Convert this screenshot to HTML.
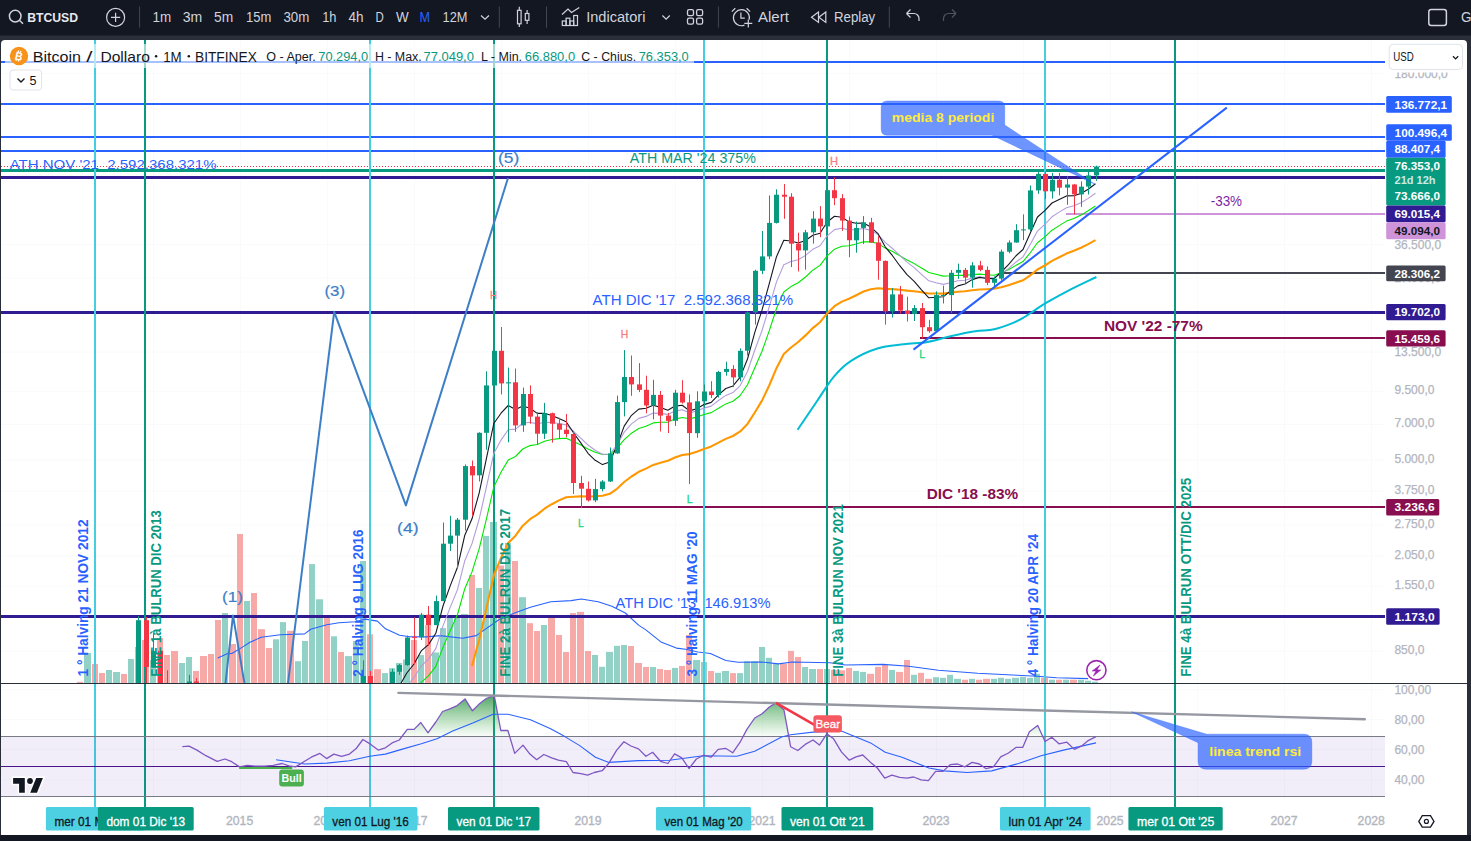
<!DOCTYPE html>
<html><head><meta charset="utf-8"><style>
html,body{margin:0;padding:0;background:#131722;width:1471px;height:841px;overflow:hidden;}
text{font-family:"Liberation Sans", sans-serif;}
</style></head><body>
<svg width="1471" height="841" viewBox="0 0 1471 841" style="position:absolute;left:0;top:0;font-family:'Liberation Sans', sans-serif">
<rect x="0" y="0" width="1471" height="841" fill="#2a2e39"/>
<rect x="0" y="0" width="1471" height="35.5" fill="#131722"/>
<rect x="0" y="835" width="1471" height="6" fill="#131722"/>
<path d="M1 44 Q1 40 5 40 L1463 40 Q1467 40 1467 44 L1467 835 L1 835 Z" fill="#ffffff"/>
<defs><clipPath id="pane"><rect x="1" y="40" width="1384" height="643"/></clipPath><clipPath id="rsi"><rect x="1" y="684" width="1384" height="116"/></clipPath><linearGradient id="gfill" x1="0" y1="0" x2="0" y2="1"><stop offset="0" stop-color="#2e9b4a" stop-opacity="0.75"/><stop offset="1" stop-color="#4caf50" stop-opacity="0"/></linearGradient></defs>
<line x1="153.5" y1="40" x2="153.5" y2="800" stroke="#f9fafb" stroke-width="1"/>
<line x1="240.5" y1="40" x2="240.5" y2="800" stroke="#f9fafb" stroke-width="1"/>
<line x1="327.5" y1="40" x2="327.5" y2="800" stroke="#f9fafb" stroke-width="1"/>
<line x1="414.5" y1="40" x2="414.5" y2="800" stroke="#f9fafb" stroke-width="1"/>
<line x1="501.5" y1="40" x2="501.5" y2="800" stroke="#f9fafb" stroke-width="1"/>
<line x1="588.5" y1="40" x2="588.5" y2="800" stroke="#f9fafb" stroke-width="1"/>
<line x1="675.5" y1="40" x2="675.5" y2="800" stroke="#f9fafb" stroke-width="1"/>
<line x1="762.5" y1="40" x2="762.5" y2="800" stroke="#f9fafb" stroke-width="1"/>
<line x1="849.5" y1="40" x2="849.5" y2="800" stroke="#f9fafb" stroke-width="1"/>
<line x1="936.5" y1="40" x2="936.5" y2="800" stroke="#f9fafb" stroke-width="1"/>
<line x1="1023.5" y1="40" x2="1023.5" y2="800" stroke="#f9fafb" stroke-width="1"/>
<line x1="1110.5" y1="40" x2="1110.5" y2="800" stroke="#f9fafb" stroke-width="1"/>
<line x1="1197.5" y1="40" x2="1197.5" y2="800" stroke="#f9fafb" stroke-width="1"/>
<line x1="1284.5" y1="40" x2="1284.5" y2="800" stroke="#f9fafb" stroke-width="1"/>
<line x1="1371.5" y1="40" x2="1371.5" y2="800" stroke="#f9fafb" stroke-width="1"/>
<line x1="1" y1="73.5" x2="1385" y2="73.5" stroke="#f9fafb" stroke-width="1"/>
<line x1="1" y1="244.5" x2="1385" y2="244.5" stroke="#f9fafb" stroke-width="1"/>
<line x1="1" y1="278" x2="1385" y2="278" stroke="#f9fafb" stroke-width="1"/>
<line x1="1" y1="352" x2="1385" y2="352" stroke="#f9fafb" stroke-width="1"/>
<line x1="1" y1="391.2" x2="1385" y2="391.2" stroke="#f9fafb" stroke-width="1"/>
<line x1="1" y1="424.5" x2="1385" y2="424.5" stroke="#f9fafb" stroke-width="1"/>
<line x1="1" y1="460" x2="1385" y2="460" stroke="#f9fafb" stroke-width="1"/>
<line x1="1" y1="491" x2="1385" y2="491" stroke="#f9fafb" stroke-width="1"/>
<line x1="1" y1="525" x2="1385" y2="525" stroke="#f9fafb" stroke-width="1"/>
<line x1="1" y1="556" x2="1385" y2="556" stroke="#f9fafb" stroke-width="1"/>
<line x1="1" y1="586" x2="1385" y2="586" stroke="#f9fafb" stroke-width="1"/>
<line x1="1" y1="651" x2="1385" y2="651" stroke="#f9fafb" stroke-width="1"/>
<line x1="1" y1="689.8" x2="1385" y2="689.8" stroke="#f9fafb" stroke-width="1"/>
<line x1="1" y1="719.6" x2="1385" y2="719.6" stroke="#f9fafb" stroke-width="1"/>
<line x1="1" y1="749.6" x2="1385" y2="749.6" stroke="#f9fafb" stroke-width="1"/>
<line x1="1" y1="780" x2="1385" y2="780" stroke="#f9fafb" stroke-width="1"/>
<g clip-path="url(#pane)">
<rect x="77" y="681.8" width="6" height="1.7" fill="#f7a9a7"/>
<rect x="84" y="653.0" width="7" height="30.5" fill="#92d1c6"/>
<rect x="92" y="664.0" width="6" height="19.5" fill="#f7a9a7"/>
<rect x="99" y="673.0" width="6" height="10.5" fill="#f7a9a7"/>
<rect x="106" y="670.0" width="6" height="13.5" fill="#92d1c6"/>
<rect x="113" y="672.0" width="7" height="11.5" fill="#92d1c6"/>
<rect x="121" y="674.0" width="6" height="9.5" fill="#f7a9a7"/>
<rect x="128" y="659.0" width="6" height="24.5" fill="#92d1c6"/>
<rect x="135" y="647.0" width="6" height="36.5" fill="#92d1c6"/>
<rect x="142" y="640.0" width="7" height="43.5" fill="#f7a9a7"/>
<rect x="150" y="660.0" width="6" height="23.5" fill="#92d1c6"/>
<rect x="157" y="638.0" width="6" height="45.5" fill="#f7a9a7"/>
<rect x="164" y="655.0" width="6" height="28.5" fill="#f7a9a7"/>
<rect x="171" y="651.0" width="7" height="32.5" fill="#f7a9a7"/>
<rect x="179" y="663.0" width="6" height="20.5" fill="#92d1c6"/>
<rect x="186" y="657.0" width="6" height="26.5" fill="#92d1c6"/>
<rect x="193" y="671.0" width="6" height="12.5" fill="#f7a9a7"/>
<rect x="200" y="656.0" width="7" height="27.5" fill="#f7a9a7"/>
<rect x="208" y="654.0" width="6" height="29.5" fill="#f7a9a7"/>
<rect x="215" y="620.0" width="6" height="63.5" fill="#f7a9a7"/>
<rect x="222" y="613.0" width="6" height="70.5" fill="#92d1c6"/>
<rect x="229" y="644.0" width="7" height="39.5" fill="#f7a9a7"/>
<rect x="237" y="534.0" width="6" height="149.5" fill="#f7a9a7"/>
<rect x="244" y="601.0" width="6" height="82.5" fill="#92d1c6"/>
<rect x="251" y="593.0" width="6" height="90.5" fill="#f7a9a7"/>
<rect x="258" y="629.2" width="7" height="54.3" fill="#f7a9a7"/>
<rect x="266" y="648.0" width="6" height="35.5" fill="#f7a9a7"/>
<rect x="273" y="639.3" width="6" height="44.2" fill="#92d1c6"/>
<rect x="280" y="622.1" width="6" height="61.4" fill="#92d1c6"/>
<rect x="287" y="630.8" width="7" height="52.7" fill="#f7a9a7"/>
<rect x="295" y="661.2" width="6" height="22.3" fill="#92d1c6"/>
<rect x="302" y="641.0" width="6" height="42.5" fill="#92d1c6"/>
<rect x="309" y="564.1" width="6" height="119.4" fill="#92d1c6"/>
<rect x="316" y="599.3" width="7" height="84.2" fill="#92d1c6"/>
<rect x="324" y="618.0" width="6" height="65.5" fill="#f7a9a7"/>
<rect x="331" y="636.3" width="6" height="47.2" fill="#92d1c6"/>
<rect x="338" y="652.0" width="6" height="31.5" fill="#f7a9a7"/>
<rect x="345" y="656.1" width="7" height="27.4" fill="#92d1c6"/>
<rect x="353" y="641.0" width="6" height="42.5" fill="#92d1c6"/>
<rect x="360" y="561.0" width="6" height="122.5" fill="#92d1c6"/>
<rect x="367" y="634.3" width="6" height="49.2" fill="#f7a9a7"/>
<rect x="374" y="669.2" width="7" height="14.3" fill="#f7a9a7"/>
<rect x="382" y="673.1" width="6" height="10.4" fill="#92d1c6"/>
<rect x="389" y="668.2" width="6" height="15.3" fill="#92d1c6"/>
<rect x="396" y="663.0" width="6" height="20.5" fill="#92d1c6"/>
<rect x="403" y="659.5" width="7" height="24.0" fill="#92d1c6"/>
<rect x="411" y="639.9" width="6" height="43.6" fill="#f7a9a7"/>
<rect x="418" y="655.1" width="6" height="28.4" fill="#92d1c6"/>
<rect x="425" y="625.2" width="6" height="58.3" fill="#f7a9a7"/>
<rect x="432" y="652.5" width="7" height="31.0" fill="#92d1c6"/>
<rect x="440" y="628.1" width="6" height="55.4" fill="#92d1c6"/>
<rect x="447" y="616.0" width="6" height="67.5" fill="#92d1c6"/>
<rect x="454" y="616.0" width="6" height="67.5" fill="#92d1c6"/>
<rect x="461" y="614.0" width="7" height="69.5" fill="#92d1c6"/>
<rect x="469" y="575.0" width="6" height="108.5" fill="#f7a9a7"/>
<rect x="476" y="588.0" width="6" height="95.5" fill="#92d1c6"/>
<rect x="483" y="536.0" width="6" height="147.5" fill="#92d1c6"/>
<rect x="490" y="522.0" width="7" height="161.5" fill="#92d1c6"/>
<rect x="498" y="565.5" width="6" height="118.0" fill="#f7a9a7"/>
<rect x="505" y="543.0" width="6" height="140.5" fill="#92d1c6"/>
<rect x="512" y="561.0" width="6" height="122.5" fill="#f7a9a7"/>
<rect x="519" y="597.2" width="7" height="86.3" fill="#92d1c6"/>
<rect x="527" y="623.2" width="6" height="60.3" fill="#f7a9a7"/>
<rect x="534" y="631.0" width="6" height="52.5" fill="#f7a9a7"/>
<rect x="541" y="625.0" width="6" height="58.5" fill="#92d1c6"/>
<rect x="548" y="617.5" width="7" height="66.0" fill="#f7a9a7"/>
<rect x="556" y="635.0" width="6" height="48.5" fill="#f7a9a7"/>
<rect x="563" y="652.0" width="6" height="31.5" fill="#f7a9a7"/>
<rect x="570" y="613.0" width="6" height="70.5" fill="#f7a9a7"/>
<rect x="577" y="611.9" width="7" height="71.6" fill="#f7a9a7"/>
<rect x="585" y="651.0" width="6" height="32.5" fill="#f7a9a7"/>
<rect x="592" y="655.0" width="6" height="28.5" fill="#92d1c6"/>
<rect x="599" y="666.8" width="6" height="16.7" fill="#92d1c6"/>
<rect x="606" y="651.9" width="7" height="31.6" fill="#92d1c6"/>
<rect x="614" y="645.8" width="6" height="37.7" fill="#92d1c6"/>
<rect x="621" y="645.0" width="6" height="38.5" fill="#92d1c6"/>
<rect x="628" y="646.0" width="6" height="37.5" fill="#f7a9a7"/>
<rect x="635" y="663.0" width="7" height="20.5" fill="#f7a9a7"/>
<rect x="643" y="667.0" width="6" height="16.5" fill="#f7a9a7"/>
<rect x="650" y="667.0" width="6" height="16.5" fill="#92d1c6"/>
<rect x="657" y="669.0" width="6" height="14.5" fill="#f7a9a7"/>
<rect x="664" y="670.0" width="7" height="13.5" fill="#f7a9a7"/>
<rect x="672" y="667.9" width="6" height="15.6" fill="#92d1c6"/>
<rect x="679" y="665.9" width="6" height="17.6" fill="#f7a9a7"/>
<rect x="686" y="635.0" width="6" height="48.5" fill="#f7a9a7"/>
<rect x="693" y="660.0" width="7" height="23.5" fill="#92d1c6"/>
<rect x="701" y="662.0" width="6" height="21.5" fill="#92d1c6"/>
<rect x="708" y="671.0" width="6" height="12.5" fill="#f7a9a7"/>
<rect x="715" y="672.8" width="6" height="10.7" fill="#92d1c6"/>
<rect x="722" y="671.0" width="7" height="12.5" fill="#92d1c6"/>
<rect x="730" y="673.1" width="6" height="10.4" fill="#f7a9a7"/>
<rect x="737" y="673.1" width="6" height="10.4" fill="#92d1c6"/>
<rect x="744" y="661.2" width="6" height="22.3" fill="#92d1c6"/>
<rect x="751" y="661.2" width="7" height="22.3" fill="#92d1c6"/>
<rect x="759" y="647.0" width="6" height="36.5" fill="#92d1c6"/>
<rect x="766" y="657.8" width="6" height="25.7" fill="#92d1c6"/>
<rect x="773" y="663.6" width="6" height="19.9" fill="#92d1c6"/>
<rect x="780" y="663.6" width="7" height="19.9" fill="#f7a9a7"/>
<rect x="788" y="650.9" width="6" height="32.6" fill="#f7a9a7"/>
<rect x="795" y="656.9" width="6" height="26.6" fill="#f7a9a7"/>
<rect x="802" y="667.0" width="6" height="16.5" fill="#92d1c6"/>
<rect x="809" y="669.0" width="7" height="14.5" fill="#92d1c6"/>
<rect x="817" y="669.0" width="6" height="14.5" fill="#f7a9a7"/>
<rect x="824" y="669.0" width="6" height="14.5" fill="#92d1c6"/>
<rect x="831" y="669.9" width="6" height="13.6" fill="#f7a9a7"/>
<rect x="838" y="670.3" width="7" height="13.2" fill="#f7a9a7"/>
<rect x="846" y="667.9" width="6" height="15.6" fill="#f7a9a7"/>
<rect x="853" y="670.9" width="6" height="12.6" fill="#92d1c6"/>
<rect x="860" y="671.9" width="6" height="11.6" fill="#92d1c6"/>
<rect x="867" y="673.8" width="7" height="9.7" fill="#f7a9a7"/>
<rect x="875" y="666.9" width="6" height="16.6" fill="#f7a9a7"/>
<rect x="882" y="665.0" width="6" height="18.5" fill="#f7a9a7"/>
<rect x="889" y="669.9" width="6" height="13.6" fill="#92d1c6"/>
<rect x="896" y="671.9" width="7" height="11.6" fill="#f7a9a7"/>
<rect x="904" y="660.0" width="6" height="23.5" fill="#f7a9a7"/>
<rect x="911" y="674.8" width="6" height="8.7" fill="#92d1c6"/>
<rect x="918" y="672.8" width="6" height="10.7" fill="#f7a9a7"/>
<rect x="925" y="678.8" width="7" height="4.7" fill="#f7a9a7"/>
<rect x="933" y="677.2" width="6" height="6.3" fill="#92d1c6"/>
<rect x="940" y="677.8" width="6" height="5.7" fill="#92d1c6"/>
<rect x="947" y="674.8" width="6" height="8.7" fill="#92d1c6"/>
<rect x="954" y="678.8" width="7" height="4.7" fill="#92d1c6"/>
<rect x="962" y="679.7" width="6" height="3.8" fill="#f7a9a7"/>
<rect x="969" y="678.8" width="6" height="4.7" fill="#92d1c6"/>
<rect x="976" y="679.7" width="6" height="3.8" fill="#f7a9a7"/>
<rect x="983" y="678.8" width="7" height="4.7" fill="#f7a9a7"/>
<rect x="991" y="678.8" width="6" height="4.7" fill="#92d1c6"/>
<rect x="998" y="677.8" width="6" height="5.7" fill="#92d1c6"/>
<rect x="1005" y="678.8" width="6" height="4.7" fill="#92d1c6"/>
<rect x="1012" y="677.8" width="7" height="5.7" fill="#92d1c6"/>
<rect x="1020" y="676.8" width="6" height="6.7" fill="#92d1c6"/>
<rect x="1027" y="677.8" width="6" height="5.7" fill="#92d1c6"/>
<rect x="1034" y="673.8" width="6" height="9.7" fill="#92d1c6"/>
<rect x="1041" y="677.8" width="7" height="5.7" fill="#f7a9a7"/>
<rect x="1049" y="679.7" width="6" height="3.8" fill="#92d1c6"/>
<rect x="1056" y="679.7" width="6" height="3.8" fill="#f7a9a7"/>
<rect x="1063" y="679.7" width="6" height="3.8" fill="#92d1c6"/>
<rect x="1070" y="679.7" width="7" height="3.8" fill="#f7a9a7"/>
<rect x="1078" y="679.7" width="6" height="3.8" fill="#92d1c6"/>
<rect x="1085" y="680.7" width="6" height="2.8" fill="#92d1c6"/>
<rect x="1092" y="681.7" width="6" height="1.8" fill="#92d1c6"/>
<polyline points="217.7,658.1 227.8,653.5 231.9,653.5 242.0,647.4 250.0,642.3 261.1,637.3 280.3,634.7 304.6,633.9 310.7,629.2 326.8,624.8 339.0,622.7 355.2,621.7 365.3,619.1 377.4,621.1 385.5,628.8 399.6,635.3 409.8,636.7 426.0,636.9 440.0,635.6 462.6,638.3 476.2,635.6 498.8,619.8 514.6,613.0 530.4,607.3 550.7,601.7 571.1,600.6 581.2,599.0 598.2,601.7 611.8,606.2 625.3,613.0 638.9,625.4 645.5,629.6 660.9,641.9 676.4,648.1 685.6,649.3 698.0,652.0 710.4,653.5 725.8,660.5 738.2,662.3 761.4,662.0 778.4,663.9 792.3,662.0 830.0,662.8 845.6,665.0 883.1,664.4 908.7,666.3 938.3,670.3 977.7,673.2 1017.2,675.2 1036.9,676.2 1056.6,677.8 1088.1,678.6" fill="none" stroke="#2962ff" stroke-width="1.1" stroke-linejoin="round" />
</g>
<line x1="1" y1="62" x2="1385" y2="62" stroke="#2962ff" stroke-width="2" />
<line x1="1" y1="104" x2="1385" y2="104" stroke="#2962ff" stroke-width="2" />
<line x1="1" y1="137" x2="1385" y2="137" stroke="#2962ff" stroke-width="2" />
<line x1="1" y1="151" x2="1385" y2="151" stroke="#2962ff" stroke-width="2" />
<line x1="1" y1="166.5" x2="1385" y2="166.5" stroke="#f23645" stroke-width="1" stroke-dasharray="1 2"/>
<line x1="1" y1="170.5" x2="1385" y2="170.5" stroke="#089981" stroke-width="3" />
<line x1="1" y1="177.5" x2="1385" y2="177.5" stroke="#311b92" stroke-width="3" />
<line x1="1066" y1="214" x2="1385" y2="214" stroke="#ce93d8" stroke-width="2" />
<line x1="1003" y1="273" x2="1385" y2="273" stroke="#434651" stroke-width="2" />
<line x1="1" y1="312.5" x2="1385" y2="312.5" stroke="#311b92" stroke-width="3" />
<line x1="920" y1="338" x2="1385" y2="338" stroke="#880e4f" stroke-width="2" />
<line x1="558" y1="507" x2="1385" y2="507" stroke="#880e4f" stroke-width="2" />
<line x1="1" y1="616.5" x2="1385" y2="616.5" stroke="#311b92" stroke-width="3" />
<line x1="95" y1="40" x2="95" y2="808" stroke="#45cee0" stroke-width="2"/>
<line x1="145" y1="40" x2="145" y2="808" stroke="#089981" stroke-width="2"/>
<line x1="370" y1="40" x2="370" y2="808" stroke="#45cee0" stroke-width="2"/>
<line x1="494" y1="40" x2="494" y2="808" stroke="#089981" stroke-width="2"/>
<line x1="704" y1="40" x2="704" y2="808" stroke="#45cee0" stroke-width="2"/>
<line x1="827" y1="40" x2="827" y2="808" stroke="#089981" stroke-width="2"/>
<line x1="1045" y1="40" x2="1045" y2="808" stroke="#45cee0" stroke-width="2"/>
<line x1="1175" y1="40" x2="1175" y2="808" stroke="#089981" stroke-width="2"/>
<g clip-path="url(#pane)">
<polyline points="472.0,665.9 479.2,639.7 486.5,607.9 493.8,575.4 501.0,557.8 508.2,543.1 515.5,535.7 522.8,525.7 530.0,519.2 537.2,514.6 544.5,508.7 551.8,504.2 559.0,500.4 566.2,497.2 573.5,496.7 580.8,496.4 588.0,496.5 595.2,496.2 602.5,495.7 609.8,493.8 617.0,488.8 624.2,482.0 631.5,476.5 638.8,471.8 646.0,468.6 653.2,464.9 660.5,462.7 667.8,460.8 675.0,457.5 682.2,455.0 689.5,454.1 696.8,451.7 704.0,448.9 711.2,446.4 718.5,442.6 725.8,438.9 733.0,436.0 740.2,431.4 747.5,423.9 754.8,412.5 762.0,400.6 769.2,385.5 776.5,368.2 783.8,354.1 791.0,347.5 798.2,342.0 805.5,335.4 812.8,328.1 820.0,322.2 827.2,313.3 834.5,306.2 841.8,301.6 849.0,298.7 856.2,295.2 863.5,291.5 870.8,289.3 878.0,288.2 885.2,288.9 892.5,289.1 899.8,289.8 907.0,290.6 914.2,291.2 921.5,292.3 928.8,293.5 936.0,293.5 943.2,293.6 950.5,292.7 957.8,291.8 965.0,291.3 972.2,290.3 979.5,289.5 986.8,289.2 994.0,288.8 1001.2,287.2 1008.5,285.3 1015.8,282.7 1023.0,280.3 1030.2,275.4 1037.5,269.5 1044.8,265.5 1052.0,260.9 1059.2,257.2 1066.5,253.6 1073.8,250.8 1081.0,247.7 1088.2,244.1 1095.5,240.1" fill="none" stroke="#ff9800" stroke-width="2.1" stroke-linejoin="round" />
<polyline points="225.5,728.9 232.8,731.2 240.0,735.8 247.2,739.2 254.5,742.7 261.8,746.1 269.0,749.6 276.2,751.8 283.5,753.2 290.8,756.2 298.0,758.8 305.2,758.7 312.5,756.7 319.8,753.3 327.0,752.1 334.2,749.1 341.5,747.0 348.8,744.2 356.0,739.6 363.2,732.0 370.5,726.6 377.8,723.1 385.0,719.3 392.2,714.0 399.5,708.5 406.8,699.7 414.0,692.3 421.2,682.4 428.5,675.8 435.8,666.4 443.0,647.4 450.2,630.8 457.5,614.5 464.8,588.7 472.0,571.9 479.2,548.7 486.5,518.6 493.8,487.0 501.0,472.2 508.2,460.1 515.5,456.5 522.8,449.0 530.0,445.6 537.2,444.5 544.5,441.2 551.8,439.5 559.0,438.6 566.2,438.2 573.5,441.5 580.8,445.1 588.0,449.1 595.2,452.2 602.5,454.5 609.8,454.4 617.0,448.5 624.2,439.6 631.5,433.2 638.8,428.5 646.0,426.2 653.2,422.9 660.5,422.2 667.8,422.1 675.0,419.1 682.2,417.5 689.5,418.8 696.8,417.1 704.0,414.5 711.2,412.6 718.5,408.2 725.8,403.9 733.0,401.2 740.2,395.5 747.5,384.7 754.8,367.7 762.0,351.3 769.2,330.9 776.5,308.5 783.8,292.0 791.0,286.6 798.2,282.7 805.5,277.0 812.8,270.2 820.0,265.4 827.2,255.9 834.5,249.2 841.8,246.3 849.0,245.7 856.2,244.0 863.5,241.8 870.8,241.9 878.0,243.5 885.2,248.1 892.5,251.6 899.8,255.8 907.0,260.0 914.2,263.6 921.5,268.0 928.8,272.5 936.0,274.3 943.2,276.1 950.5,275.8 957.8,275.2 965.0,275.4 972.2,274.5 979.5,274.1 986.8,274.8 994.0,275.2 1001.2,272.8 1008.5,269.7 1015.8,265.4 1023.0,261.6 1030.2,252.8 1037.5,242.7 1044.8,236.9 1052.0,230.2 1059.2,225.6 1066.5,221.1 1073.8,218.4 1081.0,215.1 1088.2,210.8 1095.5,206.0" fill="none" stroke="#00e600" stroke-width="1.1" stroke-linejoin="round" />
<polyline points="167.5,741.4 174.8,738.2 182.0,728.4 189.2,720.3 196.5,715.6 203.8,715.2 211.0,717.9 218.2,722.0 225.5,724.2 232.8,728.3 240.0,735.8 247.2,741.2 254.5,746.5 261.8,751.6 269.0,756.5 276.2,759.2 283.5,760.5 290.8,764.5 298.0,767.6 305.2,766.2 312.5,761.8 319.8,755.5 327.0,753.3 334.2,748.4 341.5,745.2 348.8,741.2 356.0,734.5 363.2,724.0 370.5,717.3 377.8,713.5 385.0,709.3 392.2,703.1 399.5,696.8 406.8,686.0 414.0,677.5 421.2,666.0 428.5,659.1 435.8,648.6 443.0,625.9 450.2,607.4 457.5,589.6 464.8,560.7 472.0,543.6 479.2,519.0 486.5,486.6 493.8,453.4 501.0,440.1 508.2,429.7 515.5,429.1 522.8,423.3 530.0,422.3 537.2,423.9 544.5,422.3 551.8,422.5 559.0,423.5 566.2,424.9 573.5,431.5 580.8,438.1 588.0,445.0 595.2,450.3 602.5,454.3 609.8,454.1 617.0,445.0 624.2,432.2 631.5,423.9 638.8,418.4 646.0,416.4 653.2,413.1 660.5,413.4 667.8,414.4 675.0,411.1 682.2,409.8 689.5,412.8 696.8,411.1 704.0,408.1 711.2,406.1 718.5,400.5 725.8,395.4 733.0,392.6 740.2,385.6 747.5,371.5 754.8,350.0 762.0,330.6 769.2,306.9 776.5,281.9 783.8,264.7 791.0,261.5 798.2,259.8 805.5,255.4 812.8,249.3 820.0,245.7 827.2,235.8 834.5,229.6 841.8,228.2 849.0,229.9 856.2,229.6 863.5,228.5 870.8,230.4 878.0,234.3 885.2,242.4 892.5,248.5 899.8,255.4 907.0,262.1 914.2,267.6 921.5,274.3 928.8,280.8 936.0,282.8 943.2,284.4 950.5,282.7 957.8,280.8 965.0,280.3 972.2,278.1 979.5,276.9 986.8,277.7 994.0,277.8 1001.2,273.7 1008.5,268.6 1015.8,262.2 1023.0,256.9 1030.2,244.5 1037.5,231.1 1044.8,224.4 1052.0,216.8 1059.2,212.1 1066.5,207.7 1073.8,205.7 1081.0,202.8 1088.2,198.4 1095.5,193.2" fill="none" stroke="#b39ddb" stroke-width="1.1" stroke-linejoin="round" />
<polyline points="131.2,853.5 138.5,745.9 145.8,722.7 153.0,702.1 160.2,700.3 167.5,704.2 174.8,707.6 182.0,701.7 189.2,696.9 196.5,695.6 203.8,699.2 211.0,706.3 218.2,714.7 225.5,719.5 232.8,726.7 240.0,738.9 247.2,746.9 254.5,754.3 261.8,761.1 269.0,767.2 276.2,769.3 283.5,769.2 290.8,773.8 298.0,777.0 305.2,772.5 312.5,763.9 319.8,753.7 327.0,750.8 334.2,743.8 341.5,740.1 348.8,735.2 356.0,726.8 363.2,713.3 370.5,706.1 377.8,703.1 385.0,699.3 392.2,692.5 399.5,685.8 406.8,673.0 414.0,664.0 421.2,650.9 428.5,644.6 435.8,633.3 443.0,606.0 450.2,585.9 457.5,567.3 464.8,535.2 472.0,518.8 479.2,492.9 486.5,458.2 493.8,423.5 501.0,413.2 508.2,405.5 515.5,409.6 522.8,405.9 530.0,408.2 537.2,413.4 544.5,413.3 551.8,415.5 559.0,418.5 566.2,421.8 573.5,432.7 580.8,442.9 588.0,453.3 595.2,460.3 602.5,464.6 609.8,462.0 617.0,445.5 624.2,426.1 631.5,415.3 638.8,409.1 646.0,408.3 653.2,405.2 660.5,407.4 667.8,410.2 675.0,406.1 682.2,405.3 689.5,410.9 696.8,408.7 704.0,404.6 711.2,402.4 718.5,394.9 725.8,388.5 733.0,385.9 740.2,377.1 747.5,359.0 754.8,332.3 762.0,310.2 769.2,283.8 776.5,256.7 783.8,240.2 791.0,241.0 798.2,243.0 805.5,240.5 812.8,235.2 820.0,233.2 827.2,222.0 834.5,216.3 841.8,217.2 849.0,221.9 856.2,223.2 863.5,223.0 870.8,227.1 878.0,233.7 885.2,246.8 892.5,255.7 899.8,265.7 907.0,274.7 914.2,281.3 921.5,289.9 928.8,297.8 936.0,297.2 943.2,296.7 950.5,290.9 957.8,285.9 965.0,284.0 972.2,279.6 979.5,277.4 986.8,278.5 994.0,278.6 1001.2,272.0 1008.5,264.7 1015.8,256.0 1023.0,249.5 1030.2,233.3 1037.5,217.0 1044.8,210.7 1052.0,203.0 1059.2,199.4 1066.5,195.9 1073.8,195.6 1081.0,193.5 1088.2,189.2 1095.5,183.8" fill="none" stroke="#131722" stroke-width="1.1" stroke-linejoin="round" />
<path d="M797.6,429.8 C800.9,425.0 811.0,409.9 817.1,401.0 C823.2,392.1 828.4,383.0 834.1,376.3 C839.8,369.6 843.9,365.4 851.1,360.8 C858.3,356.2 868.6,351.2 877.4,348.5 C886.2,345.8 895.4,345.4 903.8,344.3 C912.2,343.2 919.7,343.3 927.6,341.9 C935.5,340.5 943.5,337.8 951.4,336.0 C959.3,334.2 968.1,332.3 975.2,331.2 C982.3,330.1 987.9,330.7 994.2,329.3 C1000.5,327.9 1008.5,324.8 1013.2,322.9 C1018.0,321.0 1019.1,320.2 1022.7,318.1 C1026.3,316.0 1030.6,312.9 1034.6,310.3 C1038.6,307.7 1040.5,306.1 1046.5,302.7 C1052.5,299.2 1062.0,293.9 1070.3,289.6 C1078.6,285.3 1092.1,279.1 1096.4,277.0" fill="none" stroke="#00bcd4" stroke-width="2" stroke-linejoin="round" />
<line x1="80.5" y1="882.4" x2="80.5" y2="967.3" stroke="#f23645" stroke-width="1"/>
<rect x="78" y="886.9" width="5" height="2.3" fill="#f23645"/>
<line x1="88.5" y1="776.0" x2="88.5" y2="956.0" stroke="#089981" stroke-width="1"/>
<rect x="86" y="845.9" width="5" height="43.3" fill="#089981"/>
<line x1="95.5" y1="845.1" x2="95.5" y2="881.4" stroke="#f23645" stroke-width="1"/>
<rect x="93" y="845.9" width="5" height="8.0" fill="#f23645"/>
<line x1="102.5" y1="853.9" x2="102.5" y2="895.1" stroke="#f23645" stroke-width="1"/>
<rect x="100" y="853.9" width="5" height="30.7" fill="#f23645"/>
<line x1="109.5" y1="869.2" x2="109.5" y2="927.8" stroke="#089981" stroke-width="1"/>
<rect x="107" y="875.1" width="5" height="9.6" fill="#089981"/>
<line x1="117.5" y1="845.1" x2="117.5" y2="881.4" stroke="#089981" stroke-width="1"/>
<rect x="115" y="849.0" width="5" height="26.0" fill="#089981"/>
<line x1="124.5" y1="841.3" x2="124.5" y2="864.5" stroke="#f23645" stroke-width="1"/>
<rect x="122" y="849.0" width="5" height="1.6" fill="#f23645"/>
<line x1="131.5" y1="798.9" x2="131.5" y2="871.1" stroke="#089981" stroke-width="1"/>
<rect x="129" y="804.6" width="5" height="46.1" fill="#089981"/>
<line x1="138.5" y1="615.9" x2="138.5" y2="808.9" stroke="#089981" stroke-width="1"/>
<rect x="136" y="620.2" width="5" height="184.3" fill="#089981"/>
<line x1="146.5" y1="617.0" x2="146.5" y2="719.4" stroke="#f23645" stroke-width="1"/>
<rect x="144" y="620.2" width="5" height="46.8" fill="#f23645"/>
<line x1="153.5" y1="633.4" x2="153.5" y2="667.3" stroke="#089981" stroke-width="1"/>
<rect x="151" y="650.9" width="5" height="16.1" fill="#089981"/>
<line x1="160.5" y1="649.6" x2="160.5" y2="726.8" stroke="#f23645" stroke-width="1"/>
<rect x="158" y="650.9" width="5" height="43.0" fill="#f23645"/>
<line x1="167.5" y1="670.3" x2="167.5" y2="720.6" stroke="#f23645" stroke-width="1"/>
<rect x="165" y="693.9" width="5" height="25.5" fill="#f23645"/>
<line x1="175.5" y1="698.8" x2="175.5" y2="749.6" stroke="#f23645" stroke-width="1"/>
<rect x="173" y="719.4" width="5" height="1.2" fill="#f23645"/>
<line x1="182.5" y1="684.0" x2="182.5" y2="726.8" stroke="#089981" stroke-width="1"/>
<rect x="180" y="683.2" width="5" height="37.4" fill="#089981"/>
<line x1="189.5" y1="674.9" x2="189.5" y2="697.8" stroke="#089981" stroke-width="1"/>
<rect x="187" y="681.5" width="5" height="1.7" fill="#089981"/>
<line x1="196.5" y1="678.1" x2="196.5" y2="693.9" stroke="#f23645" stroke-width="1"/>
<rect x="194" y="681.5" width="5" height="9.7" fill="#f23645"/>
<line x1="204.5" y1="688.4" x2="204.5" y2="721.8" stroke="#f23645" stroke-width="1"/>
<rect x="202" y="691.1" width="5" height="21.8" fill="#f23645"/>
<line x1="211.5" y1="708.0" x2="211.5" y2="741.9" stroke="#f23645" stroke-width="1"/>
<rect x="209" y="712.9" width="5" height="23.0" fill="#f23645"/>
<line x1="218.5" y1="725.5" x2="218.5" y2="772.4" stroke="#f23645" stroke-width="1"/>
<rect x="216" y="735.9" width="5" height="14.3" fill="#f23645"/>
<line x1="225.5" y1="717.0" x2="225.5" y2="759.5" stroke="#089981" stroke-width="1"/>
<rect x="223" y="738.2" width="5" height="12.0" fill="#089981"/>
<line x1="233.5" y1="736.2" x2="233.5" y2="763.1" stroke="#f23645" stroke-width="1"/>
<rect x="231" y="738.2" width="5" height="18.6" fill="#f23645"/>
<line x1="240.5" y1="756.1" x2="240.5" y2="836.3" stroke="#f23645" stroke-width="1"/>
<rect x="238" y="756.8" width="5" height="40.7" fill="#f23645"/>
<line x1="247.5" y1="776.4" x2="247.5" y2="801.5" stroke="#089981" stroke-width="1"/>
<rect x="245" y="781.0" width="5" height="16.5" fill="#089981"/>
<line x1="254.5" y1="763.1" x2="254.5" y2="789.4" stroke="#f23645" stroke-width="1"/>
<rect x="252" y="781.0" width="5" height="4.3" fill="#f23645"/>
<line x1="262.5" y1="777.6" x2="262.5" y2="800.4" stroke="#f23645" stroke-width="1"/>
<rect x="260" y="785.3" width="5" height="3.6" fill="#f23645"/>
<line x1="269.5" y1="783.6" x2="269.5" y2="793.1" stroke="#f23645" stroke-width="1"/>
<rect x="267" y="788.9" width="5" height="2.8" fill="#f23645"/>
<line x1="276.5" y1="775.6" x2="276.5" y2="797.4" stroke="#089981" stroke-width="1"/>
<rect x="274" y="776.8" width="5" height="14.8" fill="#089981"/>
<line x1="283.5" y1="757.1" x2="283.5" y2="781.0" stroke="#089981" stroke-width="1"/>
<rect x="281" y="769.0" width="5" height="7.9" fill="#089981"/>
<line x1="291.5" y1="767.8" x2="291.5" y2="829.4" stroke="#f23645" stroke-width="1"/>
<rect x="289" y="769.0" width="5" height="22.7" fill="#f23645"/>
<line x1="298.5" y1="784.0" x2="298.5" y2="794.0" stroke="#089981" stroke-width="1"/>
<rect x="296" y="788.9" width="5" height="2.8" fill="#089981"/>
<line x1="305.5" y1="752.1" x2="305.5" y2="789.4" stroke="#089981" stroke-width="1"/>
<rect x="303" y="758.1" width="5" height="30.8" fill="#089981"/>
<line x1="312.5" y1="707.6" x2="312.5" y2="763.8" stroke="#089981" stroke-width="1"/>
<rect x="310" y="738.5" width="5" height="19.7" fill="#089981"/>
<line x1="320.5" y1="714.9" x2="320.5" y2="746.5" stroke="#089981" stroke-width="1"/>
<rect x="318" y="724.0" width="5" height="14.4" fill="#089981"/>
<line x1="327.5" y1="716.8" x2="327.5" y2="745.8" stroke="#f23645" stroke-width="1"/>
<rect x="325" y="724.0" width="5" height="17.0" fill="#f23645"/>
<line x1="334.5" y1="719.9" x2="334.5" y2="741.3" stroke="#089981" stroke-width="1"/>
<rect x="332" y="722.5" width="5" height="18.5" fill="#089981"/>
<line x1="341.5" y1="722.1" x2="341.5" y2="731.5" stroke="#f23645" stroke-width="1"/>
<rect x="339" y="722.5" width="5" height="5.3" fill="#f23645"/>
<line x1="349.5" y1="715.2" x2="349.5" y2="728.6" stroke="#089981" stroke-width="1"/>
<rect x="347" y="719.9" width="5" height="8.0" fill="#089981"/>
<line x1="356.5" y1="697.8" x2="356.5" y2="722.8" stroke="#089981" stroke-width="1"/>
<rect x="354" y="701.6" width="5" height="18.3" fill="#089981"/>
<line x1="363.5" y1="660.4" x2="363.5" y2="702.4" stroke="#089981" stroke-width="1"/>
<rect x="361" y="676.0" width="5" height="25.5" fill="#089981"/>
<line x1="370.5" y1="671.0" x2="370.5" y2="712.4" stroke="#f23645" stroke-width="1"/>
<rect x="368" y="676.0" width="5" height="8.1" fill="#f23645"/>
<line x1="378.5" y1="683.5" x2="378.5" y2="714.7" stroke="#f23645" stroke-width="1"/>
<rect x="376" y="684.2" width="5" height="9.2" fill="#f23645"/>
<line x1="385.5" y1="684.9" x2="385.5" y2="693.9" stroke="#089981" stroke-width="1"/>
<rect x="383" y="686.8" width="5" height="6.6" fill="#089981"/>
<line x1="392.5" y1="668.8" x2="392.5" y2="687.9" stroke="#089981" stroke-width="1"/>
<rect x="390" y="671.8" width="5" height="15.0" fill="#089981"/>
<line x1="399.5" y1="664.1" x2="399.5" y2="674.9" stroke="#089981" stroke-width="1"/>
<rect x="397" y="665.1" width="5" height="6.7" fill="#089981"/>
<line x1="407.5" y1="635.6" x2="407.5" y2="665.8" stroke="#089981" stroke-width="1"/>
<rect x="405" y="637.5" width="5" height="27.6" fill="#089981"/>
<line x1="414.5" y1="617.4" x2="414.5" y2="664.4" stroke="#f23645" stroke-width="1"/>
<rect x="412" y="636.9" width="5" height="1.0" fill="#f23645"/>
<line x1="421.5" y1="612.9" x2="421.5" y2="640.1" stroke="#089981" stroke-width="1"/>
<rect x="419" y="614.7" width="5" height="22.6" fill="#089981"/>
<line x1="428.5" y1="606.0" x2="428.5" y2="645.9" stroke="#f23645" stroke-width="1"/>
<rect x="426" y="614.7" width="5" height="10.4" fill="#f23645"/>
<line x1="436.5" y1="595.6" x2="436.5" y2="625.1" stroke="#089981" stroke-width="1"/>
<rect x="434" y="601.1" width="5" height="24.0" fill="#089981"/>
<line x1="443.5" y1="522.5" x2="443.5" y2="601.1" stroke="#089981" stroke-width="1"/>
<rect x="441" y="543.7" width="5" height="57.4" fill="#089981"/>
<line x1="450.5" y1="515.8" x2="450.5" y2="551.0" stroke="#089981" stroke-width="1"/>
<rect x="448" y="535.6" width="5" height="8.1" fill="#089981"/>
<line x1="457.5" y1="518.0" x2="457.5" y2="568.3" stroke="#089981" stroke-width="1"/>
<rect x="455" y="519.7" width="5" height="15.9" fill="#089981"/>
<line x1="465.5" y1="464.5" x2="465.5" y2="530.5" stroke="#089981" stroke-width="1"/>
<rect x="463" y="466.1" width="5" height="53.6" fill="#089981"/>
<line x1="472.5" y1="460.5" x2="472.5" y2="516.2" stroke="#f23645" stroke-width="1"/>
<rect x="470" y="466.1" width="5" height="9.3" fill="#f23645"/>
<line x1="479.5" y1="432.3" x2="479.5" y2="481.5" stroke="#089981" stroke-width="1"/>
<rect x="477" y="432.8" width="5" height="42.5" fill="#089981"/>
<line x1="486.5" y1="371.3" x2="486.5" y2="449.8" stroke="#089981" stroke-width="1"/>
<rect x="484" y="385.4" width="5" height="47.4" fill="#089981"/>
<line x1="494.5" y1="311.4" x2="494.5" y2="377.2" stroke="#089981" stroke-width="1"/>
<rect x="492" y="350.8" width="5" height="34.7" fill="#089981"/>
<line x1="501.5" y1="327.0" x2="501.5" y2="394.4" stroke="#f23645" stroke-width="1"/>
<rect x="499" y="350.8" width="5" height="32.6" fill="#f23645"/>
<line x1="508.5" y1="367.6" x2="508.5" y2="442.3" stroke="#089981" stroke-width="1"/>
<rect x="506" y="382.3" width="5" height="1.1" fill="#089981"/>
<line x1="515.5" y1="368.5" x2="515.5" y2="431.8" stroke="#f23645" stroke-width="1"/>
<rect x="513" y="382.3" width="5" height="43.1" fill="#f23645"/>
<line x1="523.5" y1="387.6" x2="523.5" y2="431.8" stroke="#089981" stroke-width="1"/>
<rect x="521" y="394.0" width="5" height="31.4" fill="#089981"/>
<line x1="530.5" y1="385.4" x2="530.5" y2="423.8" stroke="#f23645" stroke-width="1"/>
<rect x="528" y="394.0" width="5" height="22.6" fill="#f23645"/>
<line x1="537.5" y1="412.2" x2="537.5" y2="445.0" stroke="#f23645" stroke-width="1"/>
<rect x="535" y="416.6" width="5" height="17.1" fill="#f23645"/>
<line x1="544.5" y1="402.9" x2="544.5" y2="439.0" stroke="#089981" stroke-width="1"/>
<rect x="542" y="413.2" width="5" height="20.5" fill="#089981"/>
<line x1="552.5" y1="412.6" x2="552.5" y2="442.6" stroke="#f23645" stroke-width="1"/>
<rect x="550" y="413.2" width="5" height="10.5" fill="#f23645"/>
<line x1="559.5" y1="417.7" x2="559.5" y2="438.7" stroke="#f23645" stroke-width="1"/>
<rect x="557" y="423.7" width="5" height="6.0" fill="#f23645"/>
<line x1="566.5" y1="413.9" x2="566.5" y2="437.3" stroke="#f23645" stroke-width="1"/>
<rect x="564" y="429.7" width="5" height="4.3" fill="#f23645"/>
<line x1="573.5" y1="431.0" x2="573.5" y2="494.0" stroke="#f23645" stroke-width="1"/>
<rect x="571" y="434.0" width="5" height="49.0" fill="#f23645"/>
<line x1="581.5" y1="475.8" x2="581.5" y2="508.1" stroke="#f23645" stroke-width="1"/>
<rect x="579" y="483.0" width="5" height="5.7" fill="#f23645"/>
<line x1="588.5" y1="481.5" x2="588.5" y2="501.6" stroke="#f23645" stroke-width="1"/>
<rect x="586" y="488.8" width="5" height="11.6" fill="#f23645"/>
<line x1="595.5" y1="478.9" x2="595.5" y2="502.2" stroke="#089981" stroke-width="1"/>
<rect x="593" y="489.1" width="5" height="11.3" fill="#089981"/>
<line x1="602.5" y1="480.1" x2="602.5" y2="491.4" stroke="#089981" stroke-width="1"/>
<rect x="600" y="481.5" width="5" height="7.6" fill="#089981"/>
<line x1="610.5" y1="447.5" x2="610.5" y2="482.0" stroke="#089981" stroke-width="1"/>
<rect x="608" y="453.4" width="5" height="28.1" fill="#089981"/>
<line x1="617.5" y1="395.6" x2="617.5" y2="453.8" stroke="#089981" stroke-width="1"/>
<rect x="615" y="402.1" width="5" height="51.3" fill="#089981"/>
<line x1="624.5" y1="350.1" x2="624.5" y2="416.4" stroke="#089981" stroke-width="1"/>
<rect x="622" y="377.0" width="5" height="25.1" fill="#089981"/>
<line x1="631.5" y1="355.5" x2="631.5" y2="395.8" stroke="#f23645" stroke-width="1"/>
<rect x="629" y="377.0" width="5" height="7.4" fill="#f23645"/>
<line x1="639.5" y1="363.1" x2="639.5" y2="392.1" stroke="#f23645" stroke-width="1"/>
<rect x="637" y="384.4" width="5" height="5.5" fill="#f23645"/>
<line x1="646.5" y1="375.7" x2="646.5" y2="413.3" stroke="#f23645" stroke-width="1"/>
<rect x="644" y="389.8" width="5" height="15.7" fill="#f23645"/>
<line x1="653.5" y1="379.8" x2="653.5" y2="419.3" stroke="#089981" stroke-width="1"/>
<rect x="651" y="394.9" width="5" height="10.6" fill="#089981"/>
<line x1="660.5" y1="391.0" x2="660.5" y2="431.5" stroke="#f23645" stroke-width="1"/>
<rect x="658" y="394.9" width="5" height="20.7" fill="#f23645"/>
<line x1="668.5" y1="412.9" x2="668.5" y2="433.0" stroke="#f23645" stroke-width="1"/>
<rect x="666" y="415.6" width="5" height="5.3" fill="#f23645"/>
<line x1="675.5" y1="389.8" x2="675.5" y2="425.9" stroke="#089981" stroke-width="1"/>
<rect x="673" y="392.7" width="5" height="28.1" fill="#089981"/>
<line x1="682.5" y1="380.2" x2="682.5" y2="403.6" stroke="#f23645" stroke-width="1"/>
<rect x="680" y="392.7" width="5" height="9.8" fill="#f23645"/>
<line x1="689.5" y1="394.4" x2="689.5" y2="484.1" stroke="#f23645" stroke-width="1"/>
<rect x="687" y="402.4" width="5" height="30.7" fill="#f23645"/>
<line x1="697.5" y1="391.3" x2="697.5" y2="437.8" stroke="#089981" stroke-width="1"/>
<rect x="695" y="401.3" width="5" height="31.9" fill="#089981"/>
<line x1="704.5" y1="384.6" x2="704.5" y2="407.7" stroke="#089981" stroke-width="1"/>
<rect x="702" y="391.5" width="5" height="9.8" fill="#089981"/>
<line x1="711.5" y1="381.2" x2="711.5" y2="398.0" stroke="#f23645" stroke-width="1"/>
<rect x="709" y="391.5" width="5" height="3.6" fill="#f23645"/>
<line x1="718.5" y1="370.9" x2="718.5" y2="397.6" stroke="#089981" stroke-width="1"/>
<rect x="716" y="371.9" width="5" height="23.2" fill="#089981"/>
<line x1="726.5" y1="361.7" x2="726.5" y2="375.7" stroke="#089981" stroke-width="1"/>
<rect x="724" y="368.9" width="5" height="3.0" fill="#089981"/>
<line x1="733.5" y1="365.1" x2="733.5" y2="387.2" stroke="#f23645" stroke-width="1"/>
<rect x="731" y="368.9" width="5" height="8.5" fill="#f23645"/>
<line x1="740.5" y1="348.4" x2="740.5" y2="381.4" stroke="#089981" stroke-width="1"/>
<rect x="738" y="350.8" width="5" height="26.6" fill="#089981"/>
<line x1="747.5" y1="311.3" x2="747.5" y2="355.5" stroke="#089981" stroke-width="1"/>
<rect x="745" y="312.4" width="5" height="38.3" fill="#089981"/>
<line x1="755.5" y1="269.7" x2="755.5" y2="324.6" stroke="#089981" stroke-width="1"/>
<rect x="753" y="270.8" width="5" height="41.6" fill="#089981"/>
<line x1="762.5" y1="231.0" x2="762.5" y2="274.1" stroke="#089981" stroke-width="1"/>
<rect x="760" y="256.4" width="5" height="14.4" fill="#089981"/>
<line x1="769.5" y1="195.5" x2="769.5" y2="259.2" stroke="#089981" stroke-width="1"/>
<rect x="767" y="222.9" width="5" height="33.5" fill="#089981"/>
<line x1="776.5" y1="189.3" x2="776.5" y2="223.5" stroke="#089981" stroke-width="1"/>
<rect x="774" y="194.7" width="5" height="28.2" fill="#089981"/>
<line x1="784.5" y1="184.0" x2="784.5" y2="218.8" stroke="#f23645" stroke-width="1"/>
<rect x="782" y="194.7" width="5" height="2.0" fill="#f23645"/>
<line x1="791.5" y1="193.2" x2="791.5" y2="267.1" stroke="#f23645" stroke-width="1"/>
<rect x="789" y="196.7" width="5" height="47.0" fill="#f23645"/>
<line x1="798.5" y1="232.7" x2="798.5" y2="271.5" stroke="#f23645" stroke-width="1"/>
<rect x="796" y="243.7" width="5" height="6.7" fill="#f23645"/>
<line x1="805.5" y1="229.9" x2="805.5" y2="269.7" stroke="#089981" stroke-width="1"/>
<rect x="803" y="232.3" width="5" height="18.1" fill="#089981"/>
<line x1="813.5" y1="211.1" x2="813.5" y2="243.6" stroke="#089981" stroke-width="1"/>
<rect x="811" y="218.6" width="5" height="13.7" fill="#089981"/>
<line x1="820.5" y1="206.1" x2="820.5" y2="237.2" stroke="#f23645" stroke-width="1"/>
<rect x="818" y="218.6" width="5" height="7.8" fill="#f23645"/>
<line x1="827.5" y1="180.6" x2="827.5" y2="227.6" stroke="#089981" stroke-width="1"/>
<rect x="825" y="190.2" width="5" height="36.2" fill="#089981"/>
<line x1="834.5" y1="177.4" x2="834.5" y2="205.2" stroke="#f23645" stroke-width="1"/>
<rect x="832" y="190.2" width="5" height="8.0" fill="#f23645"/>
<line x1="842.5" y1="194.1" x2="842.5" y2="230.9" stroke="#f23645" stroke-width="1"/>
<rect x="840" y="198.2" width="5" height="22.4" fill="#f23645"/>
<line x1="849.5" y1="216.5" x2="849.5" y2="257.2" stroke="#f23645" stroke-width="1"/>
<rect x="847" y="220.6" width="5" height="19.6" fill="#f23645"/>
<line x1="856.5" y1="221.6" x2="856.5" y2="252.7" stroke="#089981" stroke-width="1"/>
<rect x="854" y="227.9" width="5" height="12.4" fill="#089981"/>
<line x1="863.5" y1="216.1" x2="863.5" y2="244.0" stroke="#089981" stroke-width="1"/>
<rect x="861" y="222.3" width="5" height="5.6" fill="#089981"/>
<line x1="871.5" y1="217.9" x2="871.5" y2="242.8" stroke="#f23645" stroke-width="1"/>
<rect x="869" y="222.3" width="5" height="20.3" fill="#f23645"/>
<line x1="878.5" y1="236.2" x2="878.5" y2="279.7" stroke="#f23645" stroke-width="1"/>
<rect x="876" y="242.5" width="5" height="18.3" fill="#f23645"/>
<line x1="885.5" y1="260.5" x2="885.5" y2="324.6" stroke="#f23645" stroke-width="1"/>
<rect x="883" y="260.9" width="5" height="50.5" fill="#f23645"/>
<line x1="892.5" y1="288.1" x2="892.5" y2="317.5" stroke="#089981" stroke-width="1"/>
<rect x="890" y="294.4" width="5" height="17.0" fill="#089981"/>
<line x1="900.5" y1="285.9" x2="900.5" y2="313.5" stroke="#f23645" stroke-width="1"/>
<rect x="898" y="294.4" width="5" height="16.2" fill="#f23645"/>
<line x1="907.5" y1="296.7" x2="907.5" y2="321.5" stroke="#f23645" stroke-width="1"/>
<rect x="905" y="310.5" width="5" height="3.5" fill="#f23645"/>
<line x1="914.5" y1="305.0" x2="914.5" y2="321.0" stroke="#089981" stroke-width="1"/>
<rect x="912" y="308.1" width="5" height="5.9" fill="#089981"/>
<line x1="922.5" y1="303.0" x2="922.5" y2="338.5" stroke="#f23645" stroke-width="1"/>
<rect x="920" y="308.1" width="5" height="19.1" fill="#f23645"/>
<line x1="929.5" y1="319.8" x2="929.5" y2="332.8" stroke="#f23645" stroke-width="1"/>
<rect x="927" y="327.2" width="5" height="4.0" fill="#f23645"/>
<line x1="936.5" y1="291.4" x2="936.5" y2="331.5" stroke="#089981" stroke-width="1"/>
<rect x="934" y="295.1" width="5" height="36.0" fill="#089981"/>
<line x1="943.5" y1="285.7" x2="943.5" y2="303.5" stroke="#089981" stroke-width="1"/>
<rect x="941" y="295.0" width="5" height="1.0" fill="#089981"/>
<line x1="951.5" y1="270.0" x2="951.5" y2="313.0" stroke="#089981" stroke-width="1"/>
<rect x="949" y="272.8" width="5" height="22.3" fill="#089981"/>
<line x1="958.5" y1="263.6" x2="958.5" y2="278.9" stroke="#089981" stroke-width="1"/>
<rect x="956" y="269.9" width="5" height="2.9" fill="#089981"/>
<line x1="965.5" y1="267.9" x2="965.5" y2="283.4" stroke="#f23645" stroke-width="1"/>
<rect x="963" y="269.9" width="5" height="7.7" fill="#f23645"/>
<line x1="972.5" y1="262.2" x2="972.5" y2="287.6" stroke="#089981" stroke-width="1"/>
<rect x="970" y="265.4" width="5" height="12.2" fill="#089981"/>
<line x1="980.5" y1="260.9" x2="980.5" y2="271.2" stroke="#f23645" stroke-width="1"/>
<rect x="978" y="265.4" width="5" height="4.5" fill="#f23645"/>
<line x1="987.5" y1="266.4" x2="987.5" y2="285.1" stroke="#f23645" stroke-width="1"/>
<rect x="985" y="269.9" width="5" height="12.9" fill="#f23645"/>
<line x1="994.5" y1="276.5" x2="994.5" y2="287.2" stroke="#089981" stroke-width="1"/>
<rect x="992" y="278.6" width="5" height="4.2" fill="#089981"/>
<line x1="1001.5" y1="249.6" x2="1001.5" y2="280.3" stroke="#089981" stroke-width="1"/>
<rect x="999" y="251.6" width="5" height="27.0" fill="#089981"/>
<line x1="1009.5" y1="240.4" x2="1009.5" y2="253.3" stroke="#089981" stroke-width="1"/>
<rect x="1007" y="242.5" width="5" height="9.2" fill="#089981"/>
<line x1="1016.5" y1="224.2" x2="1016.5" y2="242.8" stroke="#089981" stroke-width="1"/>
<rect x="1014" y="230.2" width="5" height="12.3" fill="#089981"/>
<line x1="1023.5" y1="214.4" x2="1023.5" y2="240.1" stroke="#089981" stroke-width="1"/>
<rect x="1021" y="229.4" width="5" height="1.0" fill="#089981"/>
<line x1="1030.5" y1="185.5" x2="1030.5" y2="231.2" stroke="#089981" stroke-width="1"/>
<rect x="1028" y="190.4" width="5" height="39.0" fill="#089981"/>
<line x1="1038.5" y1="170.4" x2="1038.5" y2="193.8" stroke="#089981" stroke-width="1"/>
<rect x="1036" y="173.9" width="5" height="16.5" fill="#089981"/>
<line x1="1045.5" y1="171.7" x2="1045.5" y2="199.0" stroke="#f23645" stroke-width="1"/>
<rect x="1043" y="173.9" width="5" height="17.4" fill="#f23645"/>
<line x1="1052.5" y1="172.9" x2="1052.5" y2="198.6" stroke="#089981" stroke-width="1"/>
<rect x="1050" y="179.8" width="5" height="11.6" fill="#089981"/>
<line x1="1059.5" y1="172.9" x2="1059.5" y2="195.4" stroke="#f23645" stroke-width="1"/>
<rect x="1057" y="179.8" width="5" height="7.9" fill="#f23645"/>
<line x1="1067.5" y1="175.9" x2="1067.5" y2="204.8" stroke="#089981" stroke-width="1"/>
<rect x="1065" y="184.5" width="5" height="3.1" fill="#089981"/>
<line x1="1074.5" y1="183.9" x2="1074.5" y2="214.3" stroke="#f23645" stroke-width="1"/>
<rect x="1072" y="184.5" width="5" height="9.8" fill="#f23645"/>
<line x1="1081.5" y1="181.4" x2="1081.5" y2="206.8" stroke="#089981" stroke-width="1"/>
<rect x="1079" y="186.7" width="5" height="7.7" fill="#089981"/>
<line x1="1088.5" y1="170.5" x2="1088.5" y2="194.5" stroke="#089981" stroke-width="1"/>
<rect x="1086" y="175.4" width="5" height="11.2" fill="#089981"/>
<line x1="1096.5" y1="165.6" x2="1096.5" y2="180.8" stroke="#089981" stroke-width="1"/>
<rect x="1094" y="166.5" width="5" height="8.9" fill="#089981"/>
</g>
<g clip-path="url(#pane)">
<polyline points="217.0,760.0 233.0,615.4 269.5,832.0 334.2,311.8 405.9,505.4 508.0,178.0" fill="none" stroke="#3d7fc7" stroke-width="2" stroke-linejoin="round" />
<line x1="913.5" y1="349.6" x2="1226.8" y2="107.6" stroke="#2962ff" stroke-width="2"/>
</g>
<text x="9.7" y="169.2" font-size="13.5" fill="#2962ff" font-weight="normal" text-anchor="start" textLength="206.8" lengthAdjust="spacingAndGlyphs" >ATH NOV '21&#160; 2.592.368.321%</text>
<text x="498.0" y="163.0" font-size="14.5" fill="#3d7fc7" font-weight="normal" text-anchor="start" textLength="21.3" lengthAdjust="spacingAndGlyphs" stroke="#3d7fc7" stroke-width="0.2">(5)</text>
<text x="629.8" y="163.2" font-size="14.5" fill="#089981" font-weight="normal" text-anchor="start" textLength="126.1" lengthAdjust="spacingAndGlyphs" >ATH MAR '24 375%</text>
<text x="324.5" y="296.0" font-size="14.5" fill="#3d7fc7" font-weight="normal" text-anchor="start" textLength="20.5" lengthAdjust="spacingAndGlyphs" stroke="#3d7fc7" stroke-width="0.2">(3)</text>
<text x="397.0" y="532.5" font-size="14.5" fill="#3d7fc7" font-weight="normal" text-anchor="start" textLength="21.6" lengthAdjust="spacingAndGlyphs" stroke="#3d7fc7" stroke-width="0.2">(4)</text>
<text x="222.0" y="601.5" font-size="14.5" fill="#3d7fc7" font-weight="normal" text-anchor="start" textLength="21.0" lengthAdjust="spacingAndGlyphs" stroke="#3d7fc7" stroke-width="0.2">(1)</text>
<text x="592.6" y="304.9" font-size="14" fill="#2962ff" font-weight="normal" text-anchor="start" textLength="200.5" lengthAdjust="spacingAndGlyphs" >ATH DIC '17&#160; 2.592.368.321%</text>
<text x="615.5" y="608.0" font-size="14.5" fill="#2962ff" font-weight="normal" text-anchor="start" textLength="155.0" lengthAdjust="spacingAndGlyphs" >ATH DIC '13&#160; 146.913%</text>
<text x="926.7" y="499.0" font-size="14.5" fill="#880e4f" font-weight="bold" text-anchor="start" textLength="91.4" lengthAdjust="spacingAndGlyphs" >DIC '18 -83%</text>
<text x="1103.9" y="331.3" font-size="15" fill="#880e4f" font-weight="bold" text-anchor="start" textLength="98.7" lengthAdjust="spacingAndGlyphs" >NOV '22 -77%</text>
<text x="1210.7" y="205.9" font-size="15" fill="#7b1fa2" font-weight="normal" text-anchor="start" textLength="31.4" lengthAdjust="spacingAndGlyphs" >-33%</text>
<text x="489.9" y="298.5" font-size="11" fill="#f77c80" font-weight="normal" text-anchor="start" textLength="7.1" lengthAdjust="spacingAndGlyphs" stroke="#f77c80" stroke-width="0.3">H</text>
<text x="620.8" y="338.1" font-size="11" fill="#f77c80" font-weight="normal" text-anchor="start" textLength="7.5" lengthAdjust="spacingAndGlyphs" stroke="#f77c80" stroke-width="0.3">H</text>
<text x="830.0" y="164.5" font-size="11" fill="#f77c80" font-weight="normal" text-anchor="start" textLength="8.0" lengthAdjust="spacingAndGlyphs" stroke="#f77c80" stroke-width="0.3">H</text>
<text x="577.9" y="526.5" font-size="11" fill="#22d47e" font-weight="normal" text-anchor="start" textLength="5.8" lengthAdjust="spacingAndGlyphs" stroke="#22d47e" stroke-width="0.3">L</text>
<text x="686.8" y="502.8" font-size="11" fill="#22d47e" font-weight="normal" text-anchor="start" textLength="5.9" lengthAdjust="spacingAndGlyphs" stroke="#22d47e" stroke-width="0.3">L</text>
<text x="919.2" y="357.5" font-size="11" fill="#22d47e" font-weight="normal" text-anchor="start" textLength="6.0" lengthAdjust="spacingAndGlyphs" stroke="#22d47e" stroke-width="0.3">L</text>
<text transform="translate(87.9,676.5) rotate(-90)" x="0" y="0" font-size="14" font-weight="bold" fill="#2962ff" textLength="157" lengthAdjust="spacingAndGlyphs">1 ° Halving 21 NOV 2012</text>
<text transform="translate(160.6,676.7) rotate(-90)" x="0" y="0" font-size="14" font-weight="bold" fill="#089981" textLength="166.5" lengthAdjust="spacingAndGlyphs">FINE 1à BULRUN DIC 2013</text>
<text transform="translate(362.9,676.7) rotate(-90)" x="0" y="0" font-size="14" font-weight="bold" fill="#2962ff" textLength="147.3" lengthAdjust="spacingAndGlyphs">2 ° Halving 9 LUG 2016</text>
<text transform="translate(510.2,676.7) rotate(-90)" x="0" y="0" font-size="14" font-weight="bold" fill="#089981" textLength="167.7" lengthAdjust="spacingAndGlyphs">FINE 2à BULRUN DIC 2017</text>
<text transform="translate(696.9,676.5) rotate(-90)" x="0" y="0" font-size="14" font-weight="bold" fill="#2962ff" textLength="145" lengthAdjust="spacingAndGlyphs">3 ° Halving 11 MAG '20</text>
<text transform="translate(843.2,676.7) rotate(-90)" x="0" y="0" font-size="14" font-weight="bold" fill="#089981" textLength="172.4" lengthAdjust="spacingAndGlyphs">FINE 3à BULRUN NOV 2021</text>
<text transform="translate(1037.9,676.5) rotate(-90)" x="0" y="0" font-size="14" font-weight="bold" fill="#2962ff" textLength="142.6" lengthAdjust="spacingAndGlyphs">4 ° Halving 20 APR '24</text>
<text transform="translate(1190.8,676.7) rotate(-90)" x="0" y="0" font-size="14" font-weight="bold" fill="#089981" textLength="198.9" lengthAdjust="spacingAndGlyphs">FINE 4à BULRUN OTT/DIC 2025</text>
<circle cx="1096.4" cy="670.2" r="9.6" fill="#ffffff" fill-opacity="0.6" stroke="#9c27b0" stroke-width="1.6"/>
<path d="M1100 665 L1092.2 671 L1096 671 L1093.4 676 L1100.8 670 L1097 670 Z" fill="#9c27b0" stroke="#9c27b0" stroke-width="0.6" stroke-linejoin="round"/>
<path d="M887.2 101 H998.7 Q1004.7 101 1004.7 107 V125 L1095 184.3 L992 135.2 H887.2 Q881.2 135.2 881.2 129.2 V107 Q881.2 101 887.2 101 Z" fill="#2962ff" fill-opacity="0.68" stroke="#2962ff" stroke-opacity="0.35" stroke-width="1"/>
<text x="891.8" y="122.3" font-size="13" fill="#ffeb3b" font-weight="bold" text-anchor="start" textLength="102.5" lengthAdjust="spacingAndGlyphs" >media 8 periodi</text>
<rect x="1" y="736.5" width="1384" height="60" fill="#7e57c2" fill-opacity="0.1"/>
<line x1="1" y1="736.5" x2="1385" y2="736.5" stroke="#787b86" stroke-width="1" />
<line x1="1" y1="796.5" x2="1385" y2="796.5" stroke="#787b86" stroke-width="1" />
<line x1="1" y1="766.5" x2="1385" y2="766.5" stroke="#4a148c" stroke-width="1.1" />
<defs><clipPath id="above70"><rect x="1" y="684" width="1384" height="52.6"/></clipPath><linearGradient id="rsig" gradientUnits="userSpaceOnUse" x1="0" y1="692" x2="0" y2="737"><stop offset="0" stop-color="#1b8a3a" stop-opacity="0.85"/><stop offset="1" stop-color="#4caf50" stop-opacity="0.02"/></linearGradient></defs>
<path d="M182.3,746.7 L189.1,746.2 L196.9,750.1 L205.9,755.7 L217.1,761.3 L225.0,759.0 L231.7,761.7 L239.5,766.9 L247.4,765.3 L255.2,766.2 L264.2,766.2 L273.2,765.3 L282.2,763.5 L288.9,765.8 L295.6,766.9 L304.6,761.3 L311.3,757.2 L319.9,753.4 L326.6,758.6 L333.8,754.1 L341.6,756.3 L349.5,754.1 L356.2,748.5 L362.9,739.5 L370.8,744.4 L378.2,750.1 L385.4,747.8 L392.1,742.9 L399.3,740.0 L407.3,729.4 L414.1,729.4 L420.8,722.5 L428.0,732.8 L435.8,722.0 L442.6,711.5 L450.4,708.6 L457.2,705.6 L465.0,698.9 L472.4,710.8 L479.1,704.1 L486.3,698.5 L494.2,695.4 L500.8,730.5 L507.9,730.5 L514.7,753.4 L523.0,745.1 L529.9,754.1 L536.7,759.7 L543.8,754.5 L551.7,757.9 L558.4,760.2 L566.3,761.7 L573.0,772.5 L580.9,773.6 L587.6,775.2 L594.3,772.5 L602.2,770.7 L608.9,763.1 L616.7,750.1 L623.9,741.8 L630.9,746.0 L638.5,748.9 L645.9,756.3 L652.6,752.3 L660.5,761.3 L667.9,763.5 L674.6,753.9 L681.8,757.9 L689.0,768.5 L696.4,759.0 L703.6,755.2 L711.0,757.2 L718.2,749.4 L725.6,748.3 L732.7,752.8 L740.1,742.2 L746.9,729.4 L754.7,718.0 L762.1,713.7 L769.3,707.0 L776.0,702.9 L783.9,709.7 L790.6,746.7 L797.8,750.5 L805.2,744.4 L813.0,740.0 L819.4,745.1 L826.8,733.9 L833.6,738.8 L841.4,751.9 L849.3,760.2 L856.0,756.8 L862.7,755.0 L870.6,762.4 L877.3,768.0 L884.7,778.1 L891.9,775.2 L899.7,777.4 L906.9,778.1 L913.6,777.0 L921.0,779.9 L928.4,780.6 L935.6,771.4 L943.0,771.4 L950.2,764.6 L957.6,764.0 L964.8,766.9 L972.0,762.4 L979.4,764.0 L986.1,768.7 L993.5,766.9 L1000.7,756.8 L1008.5,753.0 L1015.9,747.4 L1022.7,747.4 L1029.4,731.7 L1037.7,725.4 L1045.1,741.5 L1051.8,737.3 L1059.0,743.8 L1066.9,742.2 L1074.3,749.4 L1081.4,746.2 L1088.2,740.6 L1096.0,736.6 L1096,736.6 L182.3,736.6 Z" fill="url(#rsig)" clip-path="url(#above70)"/>
<polyline points="276.1,759.7 304.6,764.0 327.0,763.1 349.5,760.8 369.7,756.3 385.4,754.1 403.3,748.9 421.3,743.8 437.0,738.8 452.7,731.0 472.8,723.1 493.0,714.2 507.9,714.2 530.4,719.8 550.6,728.7 564.0,736.1 579.7,745.6 595.4,757.2 608.9,762.4 638.1,760.6 669.5,760.2 703.1,755.7 736.8,756.3 754.7,751.2 781.6,737.0 790.6,734.8 813.0,732.1 841.4,731.0 870.6,742.9 885.2,752.3 902.0,757.2 928.9,768.0 944.6,770.9 967.0,772.5 991.7,770.9 1018.6,763.5 1041.1,755.7 1063.5,750.1 1096.0,742.9" fill="none" stroke="#2962ff" stroke-width="1.1" stroke-linejoin="round" />
<polyline points="182.3,746.7 189.1,746.2 196.9,750.1 205.9,755.7 217.1,761.3 225.0,759.0 231.7,761.7 239.5,766.9 247.4,765.3 255.2,766.2 264.2,766.2 273.2,765.3 282.2,763.5 288.9,765.8 295.6,766.9 304.6,761.3 311.3,757.2 319.9,753.4 326.6,758.6 333.8,754.1 341.6,756.3 349.5,754.1 356.2,748.5 362.9,739.5 370.8,744.4 378.2,750.1 385.4,747.8 392.1,742.9 399.3,740.0 407.3,729.4 414.1,729.4 420.8,722.5 428.0,732.8 435.8,722.0 442.6,711.5 450.4,708.6 457.2,705.6 465.0,698.9 472.4,710.8 479.1,704.1 486.3,698.5 494.2,695.4 500.8,730.5 507.9,730.5 514.7,753.4 523.0,745.1 529.9,754.1 536.7,759.7 543.8,754.5 551.7,757.9 558.4,760.2 566.3,761.7 573.0,772.5 580.9,773.6 587.6,775.2 594.3,772.5 602.2,770.7 608.9,763.1 616.7,750.1 623.9,741.8 630.9,746.0 638.5,748.9 645.9,756.3 652.6,752.3 660.5,761.3 667.9,763.5 674.6,753.9 681.8,757.9 689.0,768.5 696.4,759.0 703.6,755.2 711.0,757.2 718.2,749.4 725.6,748.3 732.7,752.8 740.1,742.2 746.9,729.4 754.7,718.0 762.1,713.7 769.3,707.0 776.0,702.9 783.9,709.7 790.6,746.7 797.8,750.5 805.2,744.4 813.0,740.0 819.4,745.1 826.8,733.9 833.6,738.8 841.4,751.9 849.3,760.2 856.0,756.8 862.7,755.0 870.6,762.4 877.3,768.0 884.7,778.1 891.9,775.2 899.7,777.4 906.9,778.1 913.6,777.0 921.0,779.9 928.4,780.6 935.6,771.4 943.0,771.4 950.2,764.6 957.6,764.0 964.8,766.9 972.0,762.4 979.4,764.0 986.1,768.7 993.5,766.9 1000.7,756.8 1008.5,753.0 1015.9,747.4 1022.7,747.4 1029.4,731.7 1037.7,725.4 1045.1,741.5 1051.8,737.3 1059.0,743.8 1066.9,742.2 1074.3,749.4 1081.4,746.2 1088.2,740.6 1096.0,736.6" fill="none" stroke="#7e57c2" stroke-width="1.3" stroke-linejoin="round" />
<line x1="398.4" y1="692.9" x2="1364.8" y2="719.2" stroke="#9598a1" stroke-width="2.4" stroke-linecap="round"/>
<line x1="239.1" y1="768" x2="292.3" y2="768" stroke="#4caf50" stroke-width="2"/>
<rect x="279.2" y="769.6" width="24.7" height="17" rx="3" fill="#4caf50"/>
<text x="281.5" y="782.3" font-size="11.5" fill="#ffffff" font-weight="bold" text-anchor="start" textLength="20.2" lengthAdjust="spacingAndGlyphs" >Bull</text>
<line x1="776" y1="702.9" x2="815.3" y2="725.4" stroke="#f23645" stroke-width="2.4"/>
<rect x="813.4" y="715.3" width="28.5" height="17.3" rx="3" fill="#f55a62"/>
<text x="815.6" y="728.0" font-size="11.5" fill="#ffffff" font-weight="normal" text-anchor="start" textLength="24.5" lengthAdjust="spacingAndGlyphs" stroke="#ffffff" stroke-width="0.3">Bear</text>
<path d="M1131.5 711.8 L1206.6 734.2 H1303.8 Q1311.8 734.2 1311.8 742.2 V761.2 Q1311.8 769.2 1303.8 769.2 H1206.1 Q1198.1 769.2 1198.1 761.2 V742.7 Z" fill="#2962ff" fill-opacity="0.68" stroke="#2962ff" stroke-opacity="0.35" stroke-width="1"/>
<text x="1209.3" y="756.0" font-size="13" fill="#ffeb3b" font-weight="bold" text-anchor="start" textLength="91.9" lengthAdjust="spacingAndGlyphs" >linea trend rsi</text>
<g fill="#131722" stroke="#ffffff" stroke-width="3" paint-order="stroke" stroke-linejoin="miter"><path d="M13.1 778.1 H24.8 V792.7 H19.1 V783.7 H13.1 Z"/><circle cx="30" cy="781" r="2.9"/><path d="M36.2 778.1 H42.9 L37 792.7 H30.2 Z"/></g>
<line x1="1" y1="683.5" x2="1467" y2="683.5" stroke="#2a2e39" stroke-width="1.2"/>
<rect x="5" y="44" width="689" height="24" fill="#ffffff" fill-opacity="0.6"/>
<rect x="10" y="70" width="31.6" height="20" rx="3" fill="#ffffff" stroke="#e0e3eb" stroke-width="1"/>
<path d="M17.5 78.5 L21 82 L24.5 78.5" fill="none" stroke="#131722" stroke-width="1.4"/>
<text x="29.5" y="85.3" font-size="12.5" fill="#131722" font-weight="normal" text-anchor="start" textLength="7.0" lengthAdjust="spacingAndGlyphs" >5</text>
<circle cx="19" cy="56" r="9.2" fill="#f7931a"/>
<g transform="rotate(14 19 56)"><text x="15.3" y="60.3" font-size="11.5" font-weight="bold" fill="#ffffff" textLength="7.6" lengthAdjust="spacingAndGlyphs">B</text><path d="M17.3 50.6 V52.3 M19.6 50.6 V52.3 M17.3 59.8 V61.5 M19.6 59.8 V61.5" stroke="#ffffff" stroke-width="1.2"/></g>
<text x="32.7" y="61.7" font-size="15" fill="#131722" font-weight="normal" text-anchor="start" textLength="48.3" lengthAdjust="spacingAndGlyphs" >Bitcoin</text>
<text x="86.3" y="61.7" font-size="15" fill="#131722" font-weight="normal" text-anchor="start" textLength="6.2" lengthAdjust="spacingAndGlyphs" >/</text>
<text x="100.4" y="61.7" font-size="15" fill="#131722" font-weight="normal" text-anchor="start" textLength="49.5" lengthAdjust="spacingAndGlyphs" >Dollaro</text>
<text x="163.2" y="61.7" font-size="15" fill="#131722" font-weight="normal" text-anchor="start" textLength="18.5" lengthAdjust="spacingAndGlyphs" >1M</text>
<text x="195.0" y="61.7" font-size="15" fill="#131722" font-weight="normal" text-anchor="start" textLength="61.8" lengthAdjust="spacingAndGlyphs" >BITFINEX</text>
<circle cx="156.1" cy="56.3" r="1.25" fill="#131722"/><circle cx="188.8" cy="56.3" r="1.25" fill="#131722"/>
<text x="266.2" y="60.8" font-size="12" fill="#131722" font-weight="normal" text-anchor="start" textLength="49.5" lengthAdjust="spacingAndGlyphs" >O - Aper.</text>
<text x="318.3" y="60.8" font-size="12" fill="#089981" font-weight="normal" text-anchor="start" textLength="49.9" lengthAdjust="spacingAndGlyphs" >70.294,0</text>
<text x="374.9" y="60.8" font-size="12" fill="#131722" font-weight="normal" text-anchor="start" textLength="46.8" lengthAdjust="spacingAndGlyphs" >H - Max.</text>
<text x="423.5" y="60.8" font-size="12" fill="#089981" font-weight="normal" text-anchor="start" textLength="50.4" lengthAdjust="spacingAndGlyphs" >77.049,0</text>
<text x="480.9" y="60.8" font-size="12" fill="#131722" font-weight="normal" text-anchor="start" textLength="41.2" lengthAdjust="spacingAndGlyphs" >L - Min.</text>
<text x="524.7" y="60.8" font-size="12" fill="#089981" font-weight="normal" text-anchor="start" textLength="50.4" lengthAdjust="spacingAndGlyphs" >66.880,0</text>
<text x="581.3" y="60.8" font-size="12" fill="#131722" font-weight="normal" text-anchor="start" textLength="54.8" lengthAdjust="spacingAndGlyphs" >C - Chius.</text>
<text x="638.7" y="60.8" font-size="12" fill="#089981" font-weight="normal" text-anchor="start" textLength="50.1" lengthAdjust="spacingAndGlyphs" >76.353,0</text>
<text x="1394.4" y="77.7" font-size="12" fill="#b2b5be" font-weight="normal" text-anchor="start" stroke="#b2b5be" stroke-width="0.25">180.000,0</text>
<text x="1394.4" y="248.7" font-size="12" fill="#b2b5be" font-weight="normal" text-anchor="start" stroke="#b2b5be" stroke-width="0.25">36.500,0</text>
<text x="1394.4" y="282.2" font-size="12" fill="#b2b5be" font-weight="normal" text-anchor="start" stroke="#b2b5be" stroke-width="0.25">27.000,0</text>
<text x="1394.4" y="356.2" font-size="12" fill="#b2b5be" font-weight="normal" text-anchor="start" stroke="#b2b5be" stroke-width="0.25">13.500,0</text>
<text x="1394.4" y="393.8" font-size="12" fill="#b2b5be" font-weight="normal" text-anchor="start" stroke="#b2b5be" stroke-width="0.25">9.500,0</text>
<text x="1394.4" y="426.5" font-size="12" fill="#b2b5be" font-weight="normal" text-anchor="start" stroke="#b2b5be" stroke-width="0.25">7.000,0</text>
<text x="1394.4" y="462.7" font-size="12" fill="#b2b5be" font-weight="normal" text-anchor="start" stroke="#b2b5be" stroke-width="0.25">5.000,0</text>
<text x="1394.4" y="494.0" font-size="12" fill="#b2b5be" font-weight="normal" text-anchor="start" stroke="#b2b5be" stroke-width="0.25">3.750,0</text>
<text x="1394.4" y="528.0" font-size="12" fill="#b2b5be" font-weight="normal" text-anchor="start" stroke="#b2b5be" stroke-width="0.25">2.750,0</text>
<text x="1394.4" y="558.8" font-size="12" fill="#b2b5be" font-weight="normal" text-anchor="start" stroke="#b2b5be" stroke-width="0.25">2.050,0</text>
<text x="1394.4" y="588.9" font-size="12" fill="#b2b5be" font-weight="normal" text-anchor="start" stroke="#b2b5be" stroke-width="0.25">1.550,0</text>
<text x="1394.4" y="653.8" font-size="12" fill="#b2b5be" font-weight="normal" text-anchor="start" stroke="#b2b5be" stroke-width="0.25">850,0</text>
<text x="1394.4" y="694.0" font-size="12" fill="#b2b5be" font-weight="normal" text-anchor="start" stroke="#b2b5be" stroke-width="0.25">100,00</text>
<text x="1394.4" y="723.8" font-size="12" fill="#b2b5be" font-weight="normal" text-anchor="start" stroke="#b2b5be" stroke-width="0.25">80,00</text>
<text x="1394.4" y="753.8" font-size="12" fill="#b2b5be" font-weight="normal" text-anchor="start" stroke="#b2b5be" stroke-width="0.25">60,00</text>
<text x="1394.4" y="784.2" font-size="12" fill="#b2b5be" font-weight="normal" text-anchor="start" stroke="#b2b5be" stroke-width="0.25">40,00</text>
<rect x="1388" y="43" width="76" height="29.5" fill="#ffffff"/>
<rect x="1389.2" y="44.3" width="73.3" height="25.2" rx="4" fill="#ffffff" stroke="#e0e3eb" stroke-width="1"/>
<text x="1393.3" y="60.8" font-size="12" fill="#131722" font-weight="normal" text-anchor="start" textLength="20.5" lengthAdjust="spacingAndGlyphs" >USD</text>
<path d="M1453 56.3 L1455.6 58.9 L1458.2 56.3" fill="none" stroke="#131722" stroke-width="1.3"/>
<rect x="1386.2" y="96.1" width="65.6" height="16.6" rx="1.5" fill="#2962ff"/>
<text x="1394.6" y="108.5" font-size="11.8" fill="#fff" font-weight="bold" text-anchor="start" textLength="52.5" lengthAdjust="spacingAndGlyphs" >136.772,1</text>
<rect x="1386.2" y="124.3" width="65.6" height="16.5" rx="1.5" fill="#2962ff"/>
<text x="1394.6" y="136.7" font-size="11.8" fill="#fff" font-weight="bold" text-anchor="start" textLength="52.5" lengthAdjust="spacingAndGlyphs" >100.496,4</text>
<rect x="1386.2" y="140.8" width="59.4" height="17.0" rx="1.5" fill="#2962ff"/>
<text x="1394.6" y="153.4" font-size="11.8" fill="#fff" font-weight="bold" text-anchor="start" textLength="45.5" lengthAdjust="spacingAndGlyphs" >88.407,4</text>
<rect x="1386.2" y="157.8" width="59.4" height="47.6" rx="1.5" fill="#089981"/>
<rect x="1386.2" y="205.4" width="59.4" height="16.8" rx="1.5" fill="#311b92"/>
<text x="1394.6" y="217.9" font-size="11.8" fill="#fff" font-weight="bold" text-anchor="start" textLength="45.5" lengthAdjust="spacingAndGlyphs" >69.015,4</text>
<rect x="1386.2" y="222.2" width="59.4" height="17.0" rx="1.5" fill="#ce93d8"/>
<text x="1394.6" y="234.8" font-size="11.8" fill="#131722" font-weight="bold" text-anchor="start" textLength="45.5" lengthAdjust="spacingAndGlyphs" >49.094,0</text>
<rect x="1386.2" y="265.4" width="59.4" height="15.9" rx="1.5" fill="#434651"/>
<text x="1394.6" y="277.5" font-size="11.8" fill="#fff" font-weight="bold" text-anchor="start" textLength="45.5" lengthAdjust="spacingAndGlyphs" >28.306,2</text>
<rect x="1386.2" y="304.1" width="59.4" height="16.2" rx="1.5" fill="#311b92"/>
<text x="1394.6" y="316.3" font-size="11.8" fill="#fff" font-weight="bold" text-anchor="start" textLength="45.5" lengthAdjust="spacingAndGlyphs" >19.702,0</text>
<rect x="1386.2" y="330.2" width="59.4" height="16.3" rx="1.5" fill="#880e4f"/>
<text x="1394.6" y="342.5" font-size="11.8" fill="#fff" font-weight="bold" text-anchor="start" textLength="45.5" lengthAdjust="spacingAndGlyphs" >15.459,6</text>
<rect x="1386.2" y="498.9" width="53.1" height="16.5" rx="1.5" fill="#880e4f"/>
<text x="1394.6" y="511.2" font-size="11.8" fill="#fff" font-weight="bold" text-anchor="start" textLength="40.0" lengthAdjust="spacingAndGlyphs" >3.236,6</text>
<rect x="1386.2" y="608.3" width="53.4" height="16.4" rx="1.5" fill="#311b92"/>
<text x="1394.6" y="620.6" font-size="11.8" fill="#fff" font-weight="bold" text-anchor="start" textLength="40.0" lengthAdjust="spacingAndGlyphs" >1.173,0</text>
<text x="1394.6" y="169.7" font-size="11.8" fill="#fff" font-weight="bold" text-anchor="start" textLength="45.5" lengthAdjust="spacingAndGlyphs" >76.353,0</text>
<text x="1394.6" y="183.6" font-size="11.8" fill="#c8ebe4" font-weight="bold" text-anchor="start" textLength="41.0" lengthAdjust="spacingAndGlyphs" >21d 12h</text>
<text x="1394.6" y="200.3" font-size="11.8" fill="#fff" font-weight="bold" text-anchor="start" textLength="45.5" lengthAdjust="spacingAndGlyphs" >73.666,0</text>
<text x="239.6" y="825.2" font-size="12.5" fill="#b2b5be" font-weight="normal" text-anchor="middle" textLength="27.2" lengthAdjust="spacingAndGlyphs" stroke="#b2b5be" stroke-width="0.35">2015</text>
<text x="327.0" y="825.2" font-size="12.5" fill="#b2b5be" font-weight="normal" text-anchor="middle" textLength="27.2" lengthAdjust="spacingAndGlyphs" stroke="#b2b5be" stroke-width="0.35">2016</text>
<text x="414.0" y="825.2" font-size="12.5" fill="#b2b5be" font-weight="normal" text-anchor="middle" textLength="27.2" lengthAdjust="spacingAndGlyphs" stroke="#b2b5be" stroke-width="0.35">2017</text>
<text x="588.0" y="825.2" font-size="12.5" fill="#b2b5be" font-weight="normal" text-anchor="middle" textLength="27.2" lengthAdjust="spacingAndGlyphs" stroke="#b2b5be" stroke-width="0.35">2019</text>
<text x="762.0" y="825.2" font-size="12.5" fill="#b2b5be" font-weight="normal" text-anchor="middle" textLength="27.2" lengthAdjust="spacingAndGlyphs" stroke="#b2b5be" stroke-width="0.35">2021</text>
<text x="936.0" y="825.2" font-size="12.5" fill="#b2b5be" font-weight="normal" text-anchor="middle" textLength="27.2" lengthAdjust="spacingAndGlyphs" stroke="#b2b5be" stroke-width="0.35">2023</text>
<text x="1110.0" y="825.2" font-size="12.5" fill="#b2b5be" font-weight="normal" text-anchor="middle" textLength="27.2" lengthAdjust="spacingAndGlyphs" stroke="#b2b5be" stroke-width="0.35">2025</text>
<text x="1284.0" y="825.2" font-size="12.5" fill="#b2b5be" font-weight="normal" text-anchor="middle" textLength="27.2" lengthAdjust="spacingAndGlyphs" stroke="#b2b5be" stroke-width="0.35">2027</text>
<text x="1371.2" y="825.2" font-size="12.5" fill="#b2b5be" font-weight="normal" text-anchor="middle" textLength="27.2" lengthAdjust="spacingAndGlyphs" stroke="#b2b5be" stroke-width="0.35">2028</text>
<rect x="45.9" y="807" width="98.6" height="23.4" rx="1.5" fill="#4dd0e1"/>
<text x="95.2" y="825.5" font-size="12.5" fill="#131722" font-weight="normal" text-anchor="middle" textLength="81.6" lengthAdjust="spacingAndGlyphs" stroke="#131722" stroke-width="0.3">mer 01 Mag '13</text>
<rect x="97.9" y="807" width="95.8" height="23.4" rx="1.5" fill="#089981"/>
<text x="145.8" y="825.5" font-size="12.5" fill="#ffffff" font-weight="normal" text-anchor="middle" textLength="78.8" lengthAdjust="spacingAndGlyphs" stroke="#ffffff" stroke-width="0.3">dom 01 Dic '13</text>
<rect x="323.9" y="807" width="93.5" height="23.4" rx="1.5" fill="#4dd0e1"/>
<text x="370.6" y="825.5" font-size="12.5" fill="#131722" font-weight="normal" text-anchor="middle" textLength="76.5" lengthAdjust="spacingAndGlyphs" stroke="#131722" stroke-width="0.3">ven 01 Lug '16</text>
<rect x="448" y="807" width="91.5" height="23.4" rx="1.5" fill="#089981"/>
<text x="493.8" y="825.5" font-size="12.5" fill="#ffffff" font-weight="normal" text-anchor="middle" textLength="74.5" lengthAdjust="spacingAndGlyphs" stroke="#ffffff" stroke-width="0.3">ven 01 Dic '17</text>
<rect x="656" y="807" width="95.2" height="23.4" rx="1.5" fill="#4dd0e1"/>
<text x="703.6" y="825.5" font-size="12.5" fill="#131722" font-weight="normal" text-anchor="middle" textLength="78.2" lengthAdjust="spacingAndGlyphs" stroke="#131722" stroke-width="0.3">ven 01 Mag '20</text>
<rect x="781.5" y="807" width="91.8" height="23.4" rx="1.5" fill="#089981"/>
<text x="827.4" y="825.5" font-size="12.5" fill="#ffffff" font-weight="normal" text-anchor="middle" textLength="74.8" lengthAdjust="spacingAndGlyphs" stroke="#ffffff" stroke-width="0.3">ven 01 Ott '21</text>
<rect x="1000" y="807" width="90.6" height="23.4" rx="1.5" fill="#4dd0e1"/>
<text x="1045.3" y="825.5" font-size="12.5" fill="#131722" font-weight="normal" text-anchor="middle" textLength="73.6" lengthAdjust="spacingAndGlyphs" stroke="#131722" stroke-width="0.3">lun 01 Apr '24</text>
<rect x="1128.4" y="807" width="94.3" height="23.4" rx="1.5" fill="#089981"/>
<text x="1175.6" y="825.5" font-size="12.5" fill="#ffffff" font-weight="normal" text-anchor="middle" textLength="77.3" lengthAdjust="spacingAndGlyphs" stroke="#ffffff" stroke-width="0.3">mer 01 Ott '25</text>
<path d="M1422.3 815.6 H1430.5 L1434 821.4 L1430.5 827.2 H1422.3 L1418.8 821.4 Z" fill="none" stroke="#131722" stroke-width="1.3"/><circle cx="1426.4" cy="821.4" r="2" fill="none" stroke="#131722" stroke-width="1.2"/>
<circle cx="15.2" cy="16.1" r="5.8" fill="none" stroke="#d1d4dc" stroke-width="1.5"/><line x1="19.4" y1="20.3" x2="23" y2="23.8" stroke="#d1d4dc" stroke-width="1.5"/>
<text x="27.2" y="21.8" font-size="13" fill="#e6e8ee" font-weight="bold" text-anchor="start" textLength="50.9" lengthAdjust="spacingAndGlyphs" >BTCUSD</text>
<circle cx="115.6" cy="17.4" r="9" fill="none" stroke="#d1d4dc" stroke-width="1.2"/><path d="M111 17.4 H120.2 M115.6 12.8 V22" stroke="#d1d4dc" stroke-width="1.2"/>
<line x1="139.6" y1="6.5" x2="139.6" y2="27.7" stroke="#434651" stroke-width="1"/>
<line x1="499.3" y1="6.5" x2="499.3" y2="27.7" stroke="#434651" stroke-width="1"/>
<line x1="546.5" y1="6.5" x2="546.5" y2="27.7" stroke="#434651" stroke-width="1"/>
<line x1="718.4" y1="6.5" x2="718.4" y2="27.7" stroke="#434651" stroke-width="1"/>
<line x1="889.3" y1="6.5" x2="889.3" y2="27.7" stroke="#434651" stroke-width="1"/>
<text x="152.6" y="22.0" font-size="14" fill="#d1d4dc" font-weight="normal" text-anchor="start" textLength="18.7" lengthAdjust="spacingAndGlyphs" >1m</text>
<text x="182.8" y="22.0" font-size="14" fill="#d1d4dc" font-weight="normal" text-anchor="start" textLength="19.5" lengthAdjust="spacingAndGlyphs" >3m</text>
<text x="214.1" y="22.0" font-size="14" fill="#d1d4dc" font-weight="normal" text-anchor="start" textLength="19.2" lengthAdjust="spacingAndGlyphs" >5m</text>
<text x="246.0" y="22.0" font-size="14" fill="#d1d4dc" font-weight="normal" text-anchor="start" textLength="25.3" lengthAdjust="spacingAndGlyphs" >15m</text>
<text x="283.4" y="22.0" font-size="14" fill="#d1d4dc" font-weight="normal" text-anchor="start" textLength="25.9" lengthAdjust="spacingAndGlyphs" >30m</text>
<text x="322.2" y="22.0" font-size="14" fill="#d1d4dc" font-weight="normal" text-anchor="start" textLength="14.3" lengthAdjust="spacingAndGlyphs" >1h</text>
<text x="348.4" y="22.0" font-size="14" fill="#d1d4dc" font-weight="normal" text-anchor="start" textLength="15.1" lengthAdjust="spacingAndGlyphs" >4h</text>
<text x="375.6" y="22.0" font-size="14" fill="#d1d4dc" font-weight="normal" text-anchor="start" textLength="8.3" lengthAdjust="spacingAndGlyphs" >D</text>
<text x="396.0" y="22.0" font-size="14" fill="#d1d4dc" font-weight="normal" text-anchor="start" textLength="12.7" lengthAdjust="spacingAndGlyphs" >W</text>
<text x="419.5" y="22.0" font-size="14" fill="#2962ff" font-weight="normal" text-anchor="start" textLength="10.5" lengthAdjust="spacingAndGlyphs" >M</text>
<text x="442.6" y="22.0" font-size="14" fill="#d1d4dc" font-weight="normal" text-anchor="start" textLength="24.9" lengthAdjust="spacingAndGlyphs" >12M</text>
<path d="M481 15.5 L485 19.2 L489 15.5" fill="none" stroke="#d1d4dc" stroke-width="1.2"/>
<g fill="none" stroke="#d1d4dc" stroke-width="1.2"><rect x="517.5" y="10.3" width="3.6" height="13.5"/><line x1="519.3" y1="6.8" x2="519.3" y2="10.3"/><line x1="519.3" y1="23.8" x2="519.3" y2="27"/><rect x="525.3" y="13.5" width="3.6" height="6.8"/><line x1="527.1" y1="10" x2="527.1" y2="13.5"/><line x1="527.1" y1="20.3" x2="527.1" y2="24"/></g>
<g fill="none" stroke="#d1d4dc" stroke-width="1.2"><path d="M562 14.5 L568 9 L571.5 12.5 L579.3 7.5"/><rect x="562.3" y="21" width="3.8" height="4.5"/><rect x="566.1" y="18.2" width="3.8" height="7.3"/><rect x="569.9" y="21" width="3.8" height="4.5"/><rect x="573.7" y="15.5" width="3.8" height="10"/></g>
<text x="586.2" y="22.0" font-size="14" fill="#d1d4dc" font-weight="normal" text-anchor="start" textLength="59.2" lengthAdjust="spacingAndGlyphs" >Indicatori</text>
<path d="M662.4 15.5 L666.1 19.2 L669.8 15.5" fill="none" stroke="#d1d4dc" stroke-width="1.2"/>
<g fill="none" stroke="#d1d4dc" stroke-width="1.3"><rect x="687.5" y="9.6" width="6" height="6" rx="1.6"/><rect x="696.6" y="9.6" width="6" height="6" rx="1.6"/><rect x="687.5" y="18.2" width="6" height="6" rx="1.6"/><rect x="696.6" y="18.2" width="6" height="6" rx="1.6"/></g>
<g fill="none" stroke="#d1d4dc" stroke-width="1.2"><path d="M744.5 25.1 A8 8 0 1 1 749.2 19.6"/><path d="M740.9 12.6 V18.2 H744.8"/><path d="M731.8 11.6 L735.3 8.2 M746.6 8.2 L750.1 11.6"/><path d="M744.3 23.4 H752.3 M748.3 19.4 V27.6"/></g>
<text x="758.0" y="22.0" font-size="14" fill="#d1d4dc" font-weight="normal" text-anchor="start" textLength="30.9" lengthAdjust="spacingAndGlyphs" >Alert</text>
<g fill="none" stroke="#d1d4dc" stroke-width="1.2"><path d="M818.5 12 L811.5 17.2 L818.5 22.4 Z"/><path d="M825.8 12 L818.8 17.2 L825.8 22.4 Z"/></g>
<text x="834.0" y="22.0" font-size="14" fill="#d1d4dc" font-weight="normal" text-anchor="start" textLength="41.2" lengthAdjust="spacingAndGlyphs" >Replay</text>
<path d="M906.5 13.5 L910.5 9.5 M906.5 13.5 L910.5 17.5 M906.5 13.5 H914 A5 5 0 0 1 919 18.5 V21" fill="none" stroke="#d1d4dc" stroke-width="1.2"/>
<path d="M956 13.5 L952 9.5 M956 13.5 L952 17.5 M956 13.5 H948.5 A5 5 0 0 0 943.5 18.5 V21" fill="none" stroke="#50535e" stroke-width="1.2"/>
<rect x="1428.8" y="9.6" width="17.6" height="16" rx="2.5" fill="none" stroke="#d1d4dc" stroke-width="1.5"/>
<text x="1461.0" y="22.0" font-size="14" fill="#d1d4dc" font-weight="normal" text-anchor="start" textLength="10.5" lengthAdjust="spacingAndGlyphs" >G</text>
</svg>
</body></html>
